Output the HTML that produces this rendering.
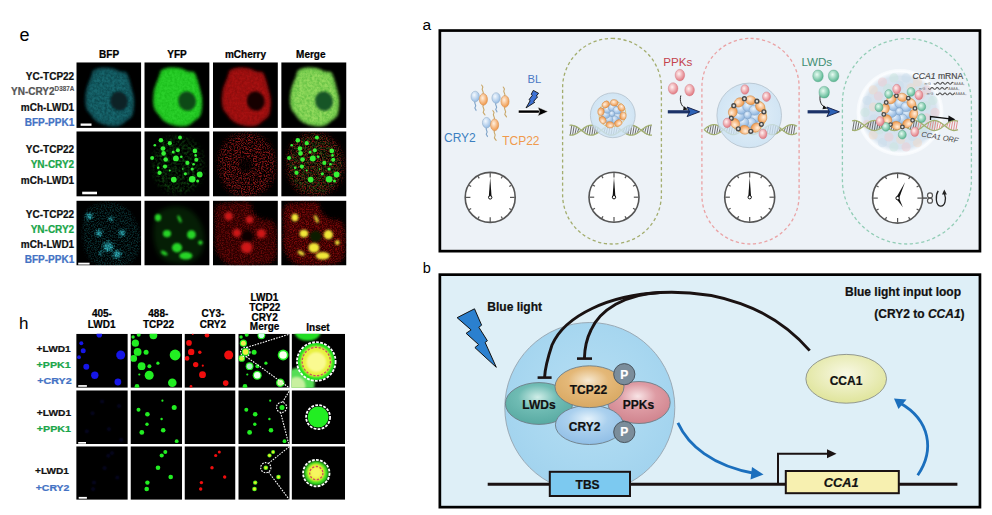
<!DOCTYPE html>
<html><head><meta charset="utf-8"><style>
html,body{margin:0;padding:0;background:#fff;width:992px;height:515px;overflow:hidden;}
svg{display:block;font-family:"Liberation Sans",sans-serif;}
</style></head><body>
<svg width="992" height="515" viewBox="0 0 992 515" font-family="Liberation Sans, sans-serif"><defs><filter id="b0" x="-50%" y="-50%" width="200%" height="200%"><feGaussianBlur stdDeviation="0.4"/></filter><filter id="b1" x="-50%" y="-50%" width="200%" height="200%"><feGaussianBlur stdDeviation="0.6"/></filter><filter id="b2" x="-50%" y="-50%" width="200%" height="200%"><feGaussianBlur stdDeviation="0.8"/></filter><filter id="b3" x="-50%" y="-50%" width="200%" height="200%"><feGaussianBlur stdDeviation="1.0"/></filter><filter id="b4" x="-50%" y="-50%" width="200%" height="200%"><feGaussianBlur stdDeviation="1.3"/></filter><filter id="b5" x="-50%" y="-50%" width="200%" height="200%"><feGaussianBlur stdDeviation="1.8"/></filter><filter id="b6" x="-50%" y="-50%" width="200%" height="200%"><feGaussianBlur stdDeviation="2.5"/></filter><filter id="b7" x="-50%" y="-50%" width="200%" height="200%"><feGaussianBlur stdDeviation="3.5"/></filter><filter id="spA" x="-20%" y="-20%" width="140%" height="140%"><feTurbulence type="fractalNoise" baseFrequency="0.4" numOctaves="2" seed="3" result="n"/><feColorMatrix in="n" type="matrix" values="0 0 0 0 0  0 0 0 0 0  0 0 0 0 0  2.0 0 0 0 -0.4" result="na0"/><feGaussianBlur in="na0" stdDeviation="0.6" result="na"/><feGaussianBlur in="SourceGraphic" stdDeviation="2.0" result="s"/><feComposite in="s" in2="na" operator="in"/></filter><filter id="spR" x="-20%" y="-20%" width="140%" height="140%"><feTurbulence type="fractalNoise" baseFrequency="0.75" numOctaves="2" seed="11" result="n"/><feColorMatrix in="n" type="matrix" values="0 0 0 0 0  0 0 0 0 0  0 0 0 0 0  3.2 0 0 0 -1.3" result="na0"/><feGaussianBlur in="na0" stdDeviation="0.35" result="na"/><feGaussianBlur in="SourceGraphic" stdDeviation="2.5" result="s"/><feComposite in="s" in2="na" operator="in"/></filter><filter id="spC" x="-20%" y="-20%" width="140%" height="140%"><feTurbulence type="fractalNoise" baseFrequency="0.7" numOctaves="2" seed="5" result="n"/><feColorMatrix in="n" type="matrix" values="0 0 0 0 0  0 0 0 0 0  0 0 0 0 0  3.2 0 0 0 -1.3" result="na0"/><feGaussianBlur in="na0" stdDeviation="0.35" result="na"/><feGaussianBlur in="SourceGraphic" stdDeviation="1.5" result="s"/><feComposite in="s" in2="na" operator="in"/></filter><filter id="spG" x="-20%" y="-20%" width="140%" height="140%"><feTurbulence type="fractalNoise" baseFrequency="0.4" numOctaves="2" seed="8" result="n"/><feColorMatrix in="n" type="matrix" values="0 0 0 0 0  0 0 0 0 0  0 0 0 0 0  2.2 0 0 0 -0.8" result="na0"/><feGaussianBlur in="na0" stdDeviation="0.6" result="na"/><feGaussianBlur in="SourceGraphic" stdDeviation="2.5" result="s"/><feComposite in="s" in2="na" operator="in"/></filter><clipPath id="e00"><rect x="76.3" y="62.3" width="65.0" height="65.6"/></clipPath><clipPath id="e01"><rect x="144.3" y="62.3" width="65.3" height="65.6"/></clipPath><clipPath id="e02"><rect x="212.9" y="62.3" width="65.0" height="65.6"/></clipPath><clipPath id="e03"><rect x="281.2" y="62.3" width="65.3" height="65.6"/></clipPath><clipPath id="e10"><rect x="76.3" y="131.3" width="65.0" height="65.3"/></clipPath><clipPath id="e11"><rect x="144.3" y="131.3" width="65.3" height="65.3"/></clipPath><clipPath id="e12"><rect x="212.9" y="131.3" width="65.0" height="65.3"/></clipPath><clipPath id="e13"><rect x="281.2" y="131.3" width="65.3" height="65.3"/></clipPath><clipPath id="e20"><rect x="76.3" y="200.6" width="65.0" height="64.9"/></clipPath><clipPath id="e21"><rect x="144.3" y="200.6" width="65.3" height="64.9"/></clipPath><clipPath id="e22"><rect x="212.9" y="200.6" width="65.0" height="64.9"/></clipPath><clipPath id="e23"><rect x="281.2" y="200.6" width="65.3" height="64.9"/></clipPath><clipPath id="h00"><rect x="76.2" y="333.8" width="51.6" height="54.0"/></clipPath><clipPath id="h10"><rect x="76.2" y="390.3" width="51.6" height="53.7"/></clipPath><clipPath id="h20"><rect x="76.2" y="446.3" width="51.6" height="53.5"/></clipPath><clipPath id="h01"><rect x="130.5" y="333.8" width="51.6" height="54.0"/></clipPath><clipPath id="h11"><rect x="130.5" y="390.3" width="51.6" height="53.7"/></clipPath><clipPath id="h21"><rect x="130.5" y="446.3" width="51.6" height="53.5"/></clipPath><clipPath id="h02"><rect x="184.5" y="333.8" width="51.0" height="54.0"/></clipPath><clipPath id="h12"><rect x="184.5" y="390.3" width="51.0" height="53.7"/></clipPath><clipPath id="h22"><rect x="184.5" y="446.3" width="51.0" height="53.5"/></clipPath><clipPath id="h03"><rect x="238.3" y="333.8" width="51.4" height="54.0"/></clipPath><clipPath id="h13"><rect x="238.3" y="390.3" width="51.4" height="53.7"/></clipPath><clipPath id="h23"><rect x="238.3" y="446.3" width="51.4" height="53.5"/></clipPath><clipPath id="h04"><rect x="291.6" y="333.8" width="53.5" height="54.0"/></clipPath><clipPath id="h14"><rect x="291.6" y="390.3" width="53.5" height="53.7"/></clipPath><clipPath id="h24"><rect x="291.6" y="446.3" width="53.5" height="53.5"/></clipPath><radialGradient id="gT" cx="48%" cy="35%" r="65%"><stop offset="0" stop-color="#f6e8d0"/><stop offset="0.45" stop-color="#e4b878"/><stop offset="1" stop-color="#d8a862"/></radialGradient><radialGradient id="gL" cx="48%" cy="35%" r="65%"><stop offset="0" stop-color="#d0eee8"/><stop offset="0.45" stop-color="#70bcb4"/><stop offset="1" stop-color="#58aaa2"/></radialGradient><radialGradient id="gP" cx="48%" cy="35%" r="65%"><stop offset="0" stop-color="#f8e4e6"/><stop offset="0.45" stop-color="#de9ca4"/><stop offset="1" stop-color="#d0848e"/></radialGradient><radialGradient id="gC" cx="48%" cy="35%" r="65%"><stop offset="0" stop-color="#e6f3fc"/><stop offset="0.45" stop-color="#aad0ee"/><stop offset="1" stop-color="#90bee6"/></radialGradient><radialGradient id="gCCA" cx="50%" cy="40%" r="60%"><stop offset="0" stop-color="#f8f8e4"/><stop offset="1" stop-color="#dfe49a"/></radialGradient><radialGradient id="gBig" cx="50%" cy="45%" r="55%"><stop offset="0" stop-color="#b6def3"/><stop offset="0.7" stop-color="#a8d7f0"/><stop offset="1" stop-color="#a2d3ee"/></radialGradient><radialGradient id="gBB" cx="38%" cy="35%" r="65%"><stop offset="0" stop-color="#f4f9fe"/><stop offset="1" stop-color="#98bde4"/></radialGradient><radialGradient id="gBB2" cx="40%" cy="35%" r="62%"><stop offset="0" stop-color="#eaf3fc"/><stop offset="1" stop-color="#8fb6e0"/></radialGradient><radialGradient id="gOB" cx="40%" cy="38%" r="62%"><stop offset="0" stop-color="#fff0e0"/><stop offset="1" stop-color="#f0984a"/></radialGradient><radialGradient id="gPB" cx="40%" cy="38%" r="62%"><stop offset="0" stop-color="#fff2f2"/><stop offset="1" stop-color="#e27a82"/></radialGradient><radialGradient id="gGB" cx="40%" cy="38%" r="62%"><stop offset="0" stop-color="#e8fbf2"/><stop offset="1" stop-color="#5cb894"/></radialGradient><radialGradient id="gDrop1" cx="50%" cy="50%" r="55%"><stop offset="0" stop-color="#e2f0fa"/><stop offset="1" stop-color="#c8e0f2"/></radialGradient><radialGradient id="gDrop3" cx="50%" cy="50%" r="50%"><stop offset="0" stop-color="#d0dfec"/><stop offset="0.82" stop-color="#d8e4ef"/><stop offset="0.93" stop-color="#fbfdff"/><stop offset="0.98" stop-color="#f6f9fc"/><stop offset="1" stop-color="#eef3f8" stop-opacity="0.5"/></radialGradient></defs><text x="19.6" y="41.2" font-size="18" fill="#000" text-anchor="start" >e</text>
<text x="19.0" y="329.0" font-size="17" fill="#000" text-anchor="start" >h</text>
<text x="422.5" y="30.0" font-size="15.5" fill="#000" text-anchor="start" >a</text>
<text x="422.8" y="273.0" font-size="14.5" fill="#000" text-anchor="start" >b</text>
<text x="109.1" y="58.2" font-size="10" font-weight="bold" stroke="#000" stroke-width="0.22" fill="#000" text-anchor="middle" >BFP</text>
<text x="177" y="58.2" font-size="10" font-weight="bold" stroke="#000" stroke-width="0.22" fill="#000" text-anchor="middle" >YFP</text>
<text x="245.5" y="58.2" font-size="10" font-weight="bold" stroke="#000" stroke-width="0.22" fill="#000" text-anchor="middle" >mCherry</text>
<text x="310.8" y="58.2" font-size="10" font-weight="bold" stroke="#000" stroke-width="0.22" fill="#000" text-anchor="middle" >Merge</text>
<text x="74.2" y="79.6" font-size="10" font-weight="bold" stroke="#111" stroke-width="0.22" fill="#111" text-anchor="end" >YC-TCP22</text>
<text x="74.2" y="94.7" font-size="10" font-weight="bold" fill="#555" stroke="#555" stroke-width="0.22" text-anchor="end">YN-CRY2<tspan font-size="6.3" dy="-4" stroke-width="0.1">D387A</tspan></text>
<text x="74.2" y="110.8" font-size="10" font-weight="bold" stroke="#111" stroke-width="0.22" fill="#111" text-anchor="end" >mCh-LWD1</text>
<text x="74.2" y="125.8" font-size="10" font-weight="bold" stroke="#4472c4" stroke-width="0.22" fill="#4472c4" text-anchor="end" >BFP-PPK1</text>
<text x="74.2" y="152.6" font-size="10" font-weight="bold" stroke="#111" stroke-width="0.22" fill="#111" text-anchor="end" >YC-TCP22</text>
<text x="74.2" y="168.2" font-size="10" font-weight="bold" stroke="#1aa64a" stroke-width="0.22" fill="#1aa64a" text-anchor="end" >YN-CRY2</text>
<text x="74.2" y="183.6" font-size="10" font-weight="bold" stroke="#111" stroke-width="0.22" fill="#111" text-anchor="end" >mCh-LWD1</text>
<text x="74.2" y="217.6" font-size="10" font-weight="bold" stroke="#111" stroke-width="0.22" fill="#111" text-anchor="end" >YC-TCP22</text>
<text x="74.2" y="232.5" font-size="10" font-weight="bold" stroke="#1aa64a" stroke-width="0.22" fill="#1aa64a" text-anchor="end" >YN-CRY2</text>
<text x="74.2" y="248.4" font-size="10" font-weight="bold" stroke="#111" stroke-width="0.22" fill="#111" text-anchor="end" >mCh-LWD1</text>
<text x="74.2" y="263.4" font-size="10" font-weight="bold" stroke="#4472c4" stroke-width="0.22" fill="#4472c4" text-anchor="end" >BFP-PPK1</text>
<text x="101.9" y="316.6" font-size="10" font-weight="bold" stroke="#000" stroke-width="0.22" fill="#000" text-anchor="middle" >405-</text>
<text x="101.6" y="328.2" font-size="10" font-weight="bold" stroke="#000" stroke-width="0.22" fill="#000" text-anchor="middle" >LWD1</text>
<text x="158.3" y="316.6" font-size="10" font-weight="bold" stroke="#000" stroke-width="0.22" fill="#000" text-anchor="middle" >488-</text>
<text x="158.5" y="328.2" font-size="10" font-weight="bold" stroke="#000" stroke-width="0.22" fill="#000" text-anchor="middle" >TCP22</text>
<text x="212.9" y="316.6" font-size="10" font-weight="bold" stroke="#000" stroke-width="0.22" fill="#000" text-anchor="middle" >CY3-</text>
<text x="212.9" y="328.2" font-size="10" font-weight="bold" stroke="#000" stroke-width="0.22" fill="#000" text-anchor="middle" >CRY2</text>
<text x="264.4" y="300.6" font-size="10" font-weight="bold" stroke="#000" stroke-width="0.22" fill="#000" text-anchor="middle" >LWD1</text>
<text x="264.8" y="311.1" font-size="10" font-weight="bold" stroke="#000" stroke-width="0.22" fill="#000" text-anchor="middle" >TCP22</text>
<text x="264.7" y="321.1" font-size="10" font-weight="bold" stroke="#000" stroke-width="0.22" fill="#000" text-anchor="middle" >CRY2</text>
<text x="264.6" y="330.4" font-size="10" font-weight="bold" stroke="#000" stroke-width="0.22" fill="#000" text-anchor="middle" >Merge</text>
<text x="318.0" y="330.5" font-size="10" font-weight="bold" stroke="#000" stroke-width="0.22" fill="#000" text-anchor="middle" >Inset</text>
<text x="36.6" y="352.1" font-size="9.6" font-weight="bold" stroke="#111" stroke-width="0.22" fill="#111" textLength="34.1" lengthAdjust="spacingAndGlyphs">+LWD1</text>
<text x="36.6" y="367.9" font-size="9.6" font-weight="bold" stroke="#1aa64a" stroke-width="0.22" fill="#1aa64a" textLength="34.1" lengthAdjust="spacingAndGlyphs">+PPK1</text>
<text x="37.2" y="383.8" font-size="9.6" font-weight="bold" stroke="#4472c4" stroke-width="0.22" fill="#4472c4" textLength="34.4" lengthAdjust="spacingAndGlyphs">+CRY2</text>
<text x="36.800000000000004" y="416.4" font-size="9.6" font-weight="bold" stroke="#111" stroke-width="0.22" fill="#111" textLength="34.3" lengthAdjust="spacingAndGlyphs">+LWD1</text>
<text x="36.800000000000004" y="431.7" font-size="9.6" font-weight="bold" stroke="#1aa64a" stroke-width="0.22" fill="#1aa64a" textLength="34.3" lengthAdjust="spacingAndGlyphs">+PPK1</text>
<text x="35.1" y="474.4" font-size="9.6" font-weight="bold" stroke="#111" stroke-width="0.22" fill="#111" textLength="33.9" lengthAdjust="spacingAndGlyphs">+LWD1</text>
<text x="35.7" y="490.7" font-size="9.6" font-weight="bold" stroke="#4472c4" stroke-width="0.22" fill="#4472c4" textLength="33.7" lengthAdjust="spacingAndGlyphs">+CRY2</text>
<g clip-path="url(#e00)"><rect x="76.3" y="62.3" width="65.0" height="65.6" fill="#000"/>
<path d="M93.3,70.2 C94.9,69.2 98.3,67.8 101.5,67.5 C104.7,67.2 109.2,67.5 112.4,68.2 C115.6,68.9 118.2,70.9 120.5,71.6 C122.8,72.3 124.6,71.2 126.0,72.2 C127.4,73.2 127.8,75.2 128.7,77.7 C129.6,80.2 130.5,83.6 131.4,87.2 C132.3,90.8 133.8,95.3 134.1,99.4 C134.4,103.5 133.8,108.6 133.4,111.6 C133.0,114.5 132.6,115.5 131.4,117.1 C130.2,118.7 127.8,119.8 126.0,121.2 C124.2,122.5 122.8,124.3 120.5,125.2 C118.2,126.0 115.6,126.5 112.4,126.3 C109.2,126.1 104.5,125.0 101.5,123.9 C98.5,122.8 96.5,121.4 94.7,119.8 C92.9,118.2 92.0,116.2 90.6,114.4 C89.2,112.6 87.4,111.2 86.5,108.9 C85.6,106.6 85.3,103.7 85.2,100.8 C85.1,97.9 85.5,94.0 85.9,91.3 C86.4,88.6 87.1,86.8 87.9,84.5 C88.7,82.2 89.9,79.5 90.6,77.7 C91.3,75.9 91.5,74.8 92.0,73.6 C92.5,72.3 91.7,71.2 93.3,70.2Z" fill="#104850" filter="url(#b5)"/>
<path d="M94.6,72.4 C96.0,71.4 99.2,70.2 102.1,69.9 C105.1,69.6 109.2,69.9 112.2,70.5 C115.1,71.2 117.5,73.0 119.6,73.7 C121.7,74.3 123.4,73.3 124.7,74.2 C125.9,75.1 126.3,77.0 127.1,79.3 C128.0,81.6 128.8,84.7 129.6,88.0 C130.5,91.3 131.8,95.5 132.1,99.2 C132.4,103.0 131.9,107.7 131.5,110.5 C131.1,113.2 130.8,114.0 129.6,115.5 C128.5,117.0 126.3,118.0 124.7,119.3 C123.0,120.5 121.7,122.2 119.6,123.0 C117.5,123.7 115.1,124.2 112.2,124.0 C109.2,123.8 104.8,122.8 102.1,121.8 C99.4,120.8 97.5,119.5 95.9,118.0 C94.2,116.5 93.4,114.7 92.1,113.0 C90.8,111.4 89.2,110.1 88.3,108.0 C87.5,105.9 87.2,103.2 87.1,100.5 C87.0,97.8 87.4,94.3 87.8,91.8 C88.2,89.3 88.9,87.6 89.6,85.5 C90.3,83.4 91.5,80.9 92.1,79.3 C92.7,77.6 93.0,76.6 93.4,75.5 C93.8,74.3 93.1,73.3 94.6,72.4Z" fill="#24848c" filter="url(#spA)" opacity="0.5"/>
<ellipse cx="119.1" cy="101.1" rx="8.9" ry="9.8" transform="rotate(-15 119.1 101.1)" fill="#072428" filter="url(#b4)"/>
</g>
<g clip-path="url(#e01)"><rect x="144.3" y="62.3" width="65.3" height="65.6" fill="#000"/>
<path d="M161.3,70.2 C162.9,69.2 166.3,67.8 169.5,67.5 C172.7,67.2 177.2,67.5 180.4,68.2 C183.6,68.9 186.2,70.9 188.5,71.6 C190.8,72.3 192.6,71.2 194.0,72.2 C195.4,73.2 195.8,75.2 196.7,77.7 C197.6,80.2 198.5,83.6 199.4,87.2 C200.3,90.8 201.8,95.3 202.1,99.4 C202.4,103.5 201.9,108.6 201.4,111.6 C200.9,114.5 200.6,115.5 199.4,117.1 C198.2,118.7 195.8,119.8 194.0,121.2 C192.2,122.5 190.8,124.3 188.5,125.2 C186.2,126.0 183.6,126.5 180.4,126.3 C177.2,126.1 172.4,125.0 169.5,123.9 C166.6,122.8 164.5,121.4 162.7,119.8 C160.9,118.2 160.0,116.2 158.6,114.4 C157.2,112.6 155.4,111.2 154.5,108.9 C153.6,106.6 153.3,103.7 153.2,100.8 C153.1,97.9 153.5,94.0 153.9,91.3 C154.3,88.6 155.1,86.8 155.9,84.5 C156.7,82.2 157.9,79.5 158.6,77.7 C159.3,75.9 159.6,74.8 160.0,73.6 C160.4,72.3 159.7,71.2 161.3,70.2Z" fill="#1fbf1f" filter="url(#b5)"/>
<path d="M162.6,72.4 C164.0,71.4 167.2,70.2 170.1,69.9 C173.1,69.6 177.2,69.9 180.2,70.5 C183.1,71.2 185.5,73.0 187.6,73.7 C189.7,74.3 191.4,73.3 192.7,74.2 C193.9,75.1 194.3,77.0 195.1,79.3 C196.0,81.6 196.8,84.7 197.6,88.0 C198.5,91.3 199.8,95.5 200.1,99.2 C200.4,103.0 199.9,107.7 199.5,110.5 C199.1,113.2 198.8,114.0 197.6,115.5 C196.5,117.0 194.3,118.0 192.7,119.3 C191.0,120.5 189.7,122.2 187.6,123.0 C185.5,123.7 183.1,124.2 180.2,124.0 C177.2,123.8 172.8,122.8 170.1,121.8 C167.4,120.8 165.5,119.5 163.9,118.0 C162.2,116.5 161.4,114.7 160.1,113.0 C158.8,111.4 157.2,110.1 156.3,108.0 C155.5,105.9 155.2,103.2 155.1,100.5 C155.0,97.8 155.4,94.3 155.8,91.8 C156.2,89.3 156.9,87.6 157.6,85.5 C158.3,83.4 159.5,80.9 160.1,79.3 C160.7,77.6 161.0,76.6 161.4,75.5 C161.8,74.3 161.1,73.3 162.6,72.4Z" fill="#34dc34" filter="url(#spA)" opacity="0.6"/>
<ellipse cx="187.10000000000002" cy="101.1" rx="8.9" ry="9.8" transform="rotate(-15 187.10000000000002 101.1)" fill="#0a4a12" filter="url(#b4)"/>
</g>
<g clip-path="url(#e02)"><rect x="212.9" y="62.3" width="65.0" height="65.6" fill="#000"/>
<path d="M229.9,70.2 C231.5,69.2 234.9,67.8 238.1,67.5 C241.3,67.2 245.8,67.5 249.0,68.2 C252.2,68.9 254.8,70.9 257.1,71.6 C259.4,72.3 261.2,71.2 262.6,72.2 C264.0,73.2 264.4,75.2 265.3,77.7 C266.2,80.2 267.1,83.6 268.0,87.2 C268.9,90.8 270.4,95.3 270.7,99.4 C271.0,103.5 270.4,108.6 270.0,111.6 C269.6,114.5 269.2,115.5 268.0,117.1 C266.8,118.7 264.4,119.8 262.6,121.2 C260.8,122.5 259.4,124.3 257.1,125.2 C254.8,126.0 252.2,126.5 249.0,126.3 C245.8,126.1 241.0,125.0 238.1,123.9 C235.2,122.8 233.1,121.4 231.3,119.8 C229.5,118.2 228.6,116.2 227.2,114.4 C225.8,112.6 224.0,111.2 223.1,108.9 C222.2,106.6 221.9,103.7 221.8,100.8 C221.7,97.9 222.1,94.0 222.5,91.3 C222.9,88.6 223.7,86.8 224.5,84.5 C225.3,82.2 226.5,79.5 227.2,77.7 C227.9,75.9 228.2,74.8 228.6,73.6 C229.0,72.3 228.3,71.2 229.9,70.2Z" fill="#8e0e0e" filter="url(#b5)"/>
<path d="M231.2,72.4 C232.6,71.4 235.8,70.2 238.7,69.9 C241.7,69.6 245.8,69.9 248.8,70.5 C251.7,71.2 254.1,73.0 256.2,73.7 C258.3,74.3 260.0,73.3 261.3,74.2 C262.5,75.1 262.9,77.0 263.7,79.3 C264.6,81.6 265.4,84.7 266.2,88.0 C267.1,91.3 268.4,95.5 268.7,99.2 C269.0,103.0 268.5,107.7 268.1,110.5 C267.7,113.2 267.4,114.0 266.2,115.5 C265.1,117.0 262.9,118.0 261.3,119.3 C259.6,120.5 258.3,122.2 256.2,123.0 C254.1,123.7 251.7,124.2 248.8,124.0 C245.8,123.8 241.4,122.8 238.7,121.8 C236.0,120.8 234.1,119.5 232.5,118.0 C230.8,116.5 230.0,114.7 228.7,113.0 C227.4,111.4 225.8,110.1 224.9,108.0 C224.1,105.9 223.8,103.2 223.7,100.5 C223.6,97.8 224.0,94.3 224.4,91.8 C224.8,89.3 225.5,87.6 226.2,85.5 C226.9,83.4 228.1,80.9 228.7,79.3 C229.3,77.6 229.6,76.6 230.0,75.5 C230.4,74.3 229.7,73.3 231.2,72.4Z" fill="#c41818" filter="url(#spA)" opacity="0.45"/>
<ellipse cx="255.7" cy="101.1" rx="8.9" ry="9.8" transform="rotate(-15 255.7 101.1)" fill="#160000" filter="url(#b4)"/>
</g>
<g clip-path="url(#e03)"><rect x="281.2" y="62.3" width="65.3" height="65.6" fill="#000"/>
<path d="M298.2,70.2 C299.8,69.2 303.2,67.8 306.4,67.5 C309.6,67.2 314.1,67.5 317.3,68.2 C320.5,68.9 323.1,70.9 325.4,71.6 C327.7,72.3 329.5,71.2 330.9,72.2 C332.3,73.2 332.7,75.2 333.6,77.7 C334.5,80.2 335.4,83.6 336.3,87.2 C337.2,90.8 338.7,95.3 339.0,99.4 C339.3,103.5 338.8,108.6 338.3,111.6 C337.9,114.5 337.5,115.5 336.3,117.1 C335.1,118.7 332.7,119.8 330.9,121.2 C329.1,122.5 327.7,124.3 325.4,125.2 C323.1,126.0 320.5,126.5 317.3,126.3 C314.1,126.1 309.3,125.0 306.4,123.9 C303.4,122.8 301.4,121.4 299.6,119.8 C297.8,118.2 296.9,116.2 295.5,114.4 C294.1,112.6 292.3,111.2 291.4,108.9 C290.5,106.6 290.2,103.7 290.1,100.8 C290.0,97.9 290.4,94.0 290.8,91.3 C291.2,88.6 292.0,86.8 292.8,84.5 C293.6,82.2 294.8,79.5 295.5,77.7 C296.2,75.9 296.4,74.8 296.9,73.6 C297.3,72.3 296.6,71.2 298.2,70.2Z" fill="#66c244" filter="url(#b5)"/>
<path d="M299.5,72.4 C300.9,71.4 304.1,70.2 307.0,69.9 C310.0,69.6 314.1,69.9 317.1,70.5 C320.0,71.2 322.4,73.0 324.5,73.7 C326.6,74.3 328.3,73.3 329.6,74.2 C330.8,75.1 331.2,77.0 332.0,79.3 C332.9,81.6 333.7,84.7 334.5,88.0 C335.4,91.3 336.7,95.5 337.0,99.2 C337.3,103.0 336.8,107.7 336.4,110.5 C336.0,113.2 335.7,114.0 334.5,115.5 C333.4,117.0 331.2,118.0 329.6,119.3 C327.9,120.5 326.6,122.2 324.5,123.0 C322.4,123.7 320.0,124.2 317.1,124.0 C314.1,123.8 309.7,122.8 307.0,121.8 C304.3,120.8 302.4,119.5 300.8,118.0 C299.1,116.5 298.3,114.7 297.0,113.0 C295.7,111.4 294.1,110.1 293.2,108.0 C292.4,105.9 292.1,103.2 292.0,100.5 C291.9,97.8 292.3,94.3 292.7,91.8 C293.1,89.3 293.8,87.6 294.5,85.5 C295.2,83.4 296.4,80.9 297.0,79.3 C297.6,77.6 297.9,76.6 298.3,75.5 C298.7,74.3 298.0,73.3 299.5,72.4Z" fill="#a2e266" filter="url(#spA)" opacity="0.75"/>
<ellipse cx="324.0" cy="101.1" rx="8.9" ry="9.8" transform="rotate(-15 324.0 101.1)" fill="#175426" filter="url(#b4)"/>
</g>
<g clip-path="url(#e10)"><rect x="76.3" y="131.3" width="65.0" height="65.3" fill="#000"/>
</g>
<g clip-path="url(#e11)"><rect x="144.3" y="131.3" width="65.3" height="65.3" fill="#000"/>
<path d="M154.3,151.3 C156.3,146.8 160.5,141.8 164.3,139.3 C168.1,136.8 173.0,136.3 177.3,136.3 C181.6,136.3 186.5,137.1 190.3,139.3 C194.1,141.5 198.0,145.3 200.3,149.3 C202.6,153.3 204.0,158.6 204.3,163.3 C204.6,168.0 204.0,173.1 202.3,177.3 C200.6,181.5 198.0,185.6 194.3,188.3 C190.6,191.0 185.0,192.8 180.3,193.3 C175.6,193.8 170.3,193.3 166.3,191.3 C162.3,189.3 158.6,185.5 156.3,181.3 C154.0,177.1 152.6,171.3 152.3,166.3 C152.0,161.3 152.3,155.8 154.3,151.3Z" fill="#1c7a1c" filter="url(#spG)" opacity="0.55"/>
<circle cx="180.0" cy="137.5" r="2.0" fill="#36f236" filter="url(#b1)"/>
<circle cx="160.9" cy="140.2" r="2.3" fill="#36f236" filter="url(#b1)"/>
<circle cx="169.8" cy="143.2" r="2.1" fill="#36f236" filter="url(#b1)"/>
<circle cx="154.8" cy="145.2" r="1.3" fill="#36f236" filter="url(#b1)"/>
<circle cx="163.0" cy="148.6" r="2.4" fill="#36f236" filter="url(#b1)"/>
<circle cx="163.6" cy="153.4" r="2.3" fill="#36f236" filter="url(#b1)"/>
<circle cx="177.9" cy="150.3" r="2.0" fill="#36f236" filter="url(#b1)"/>
<circle cx="173.2" cy="152.0" r="1.5" fill="#36f236" filter="url(#b1)"/>
<circle cx="194.9" cy="150.9" r="2.3" fill="#36f236" filter="url(#b1)"/>
<circle cx="195.6" cy="155.4" r="1.3" fill="#36f236" filter="url(#b1)"/>
<circle cx="152.1" cy="158.1" r="2.0" fill="#36f236" filter="url(#b1)"/>
<circle cx="165.7" cy="159.5" r="2.3" fill="#36f236" filter="url(#b1)"/>
<circle cx="175.9" cy="158.4" r="2.9" fill="#36f236" filter="url(#b1)"/>
<circle cx="181.3" cy="156.8" r="1.3" fill="#36f236" filter="url(#b1)"/>
<circle cx="196.3" cy="159.8" r="2.0" fill="#36f236" filter="url(#b1)"/>
<circle cx="187.4" cy="162.9" r="2.1" fill="#36f236" filter="url(#b1)"/>
<circle cx="193.6" cy="164.3" r="1.3" fill="#36f236" filter="url(#b1)"/>
<circle cx="165.0" cy="166.6" r="2.1" fill="#36f236" filter="url(#b1)"/>
<circle cx="158.2" cy="167.7" r="1.3" fill="#36f236" filter="url(#b1)"/>
<circle cx="192.2" cy="169.0" r="1.6" fill="#36f236" filter="url(#b1)"/>
<circle cx="159.6" cy="172.8" r="2.1" fill="#36f236" filter="url(#b1)"/>
<circle cx="185.4" cy="173.8" r="1.6" fill="#36f236" filter="url(#b1)"/>
<circle cx="199.7" cy="174.5" r="2.9" fill="#36f236" filter="url(#b1)"/>
<circle cx="173.8" cy="179.6" r="2.9" fill="#36f236" filter="url(#b1)"/>
<circle cx="192.2" cy="179.2" r="3.3" fill="#36f236" filter="url(#b1)"/>
<circle cx="197.6" cy="181.0" r="1.5" fill="#36f236" filter="url(#b1)"/>
<circle cx="169.8" cy="170.4" r="1.0" fill="#36f236" filter="url(#b1)"/>
<circle cx="182.7" cy="169.0" r="0.8" fill="#36f236" filter="url(#b1)"/>
</g>
<g clip-path="url(#e12)"><rect x="212.9" y="131.3" width="65.0" height="65.3" fill="#000"/>
<path d="M220.6,149.8 C222.8,144.9 227.4,139.4 231.6,136.6 C235.8,133.9 241.1,133.3 245.9,133.3 C250.7,133.3 256.0,134.2 260.2,136.6 C264.4,139.0 268.6,143.2 271.2,147.6 C273.8,152.0 275.2,157.9 275.6,163.0 C276.0,168.1 275.2,173.8 273.4,178.4 C271.6,183.0 268.6,187.6 264.6,190.5 C260.6,193.4 254.3,195.4 249.2,196.0 C244.1,196.6 238.2,196.0 233.8,193.8 C229.4,191.6 225.4,187.4 222.8,182.8 C220.2,178.2 218.8,171.8 218.4,166.3 C218.0,160.8 218.4,154.8 220.6,149.8Z" fill="#8c1212" filter="url(#spR)"/>
<circle cx="245.9" cy="165.3" r="7" fill="#000" filter="url(#b5)" opacity="0.8"/>
</g>
<g clip-path="url(#e13)"><rect x="281.2" y="131.3" width="65.3" height="65.3" fill="#000"/>
<path d="M288.9,149.8 C291.1,144.9 295.7,139.4 299.9,136.6 C304.1,133.9 309.4,133.3 314.2,133.3 C319.0,133.3 324.3,134.2 328.5,136.6 C332.7,139.0 336.9,143.2 339.5,147.6 C342.1,152.0 343.5,157.9 343.9,163.0 C344.3,168.1 343.5,173.8 341.7,178.4 C339.9,183.0 336.9,187.6 332.9,190.5 C328.9,193.4 322.6,195.4 317.5,196.0 C312.4,196.6 306.5,196.0 302.1,193.8 C297.7,191.6 293.7,187.4 291.1,182.8 C288.5,178.2 287.1,171.8 286.7,166.3 C286.3,160.8 286.7,154.8 288.9,149.8Z" fill="#8c1212" filter="url(#spR)"/>
<path d="M291.2,151.3 C293.2,146.8 297.4,141.8 301.2,139.3 C305.0,136.8 309.9,136.3 314.2,136.3 C318.5,136.3 323.4,137.1 327.2,139.3 C331.0,141.5 334.9,145.3 337.2,149.3 C339.5,153.3 340.9,158.6 341.2,163.3 C341.5,168.0 340.9,173.1 339.2,177.3 C337.5,181.5 334.9,185.6 331.2,188.3 C327.5,191.0 321.9,192.8 317.2,193.3 C312.5,193.8 307.2,193.3 303.2,191.3 C299.2,189.3 295.5,185.5 293.2,181.3 C290.9,177.1 289.5,171.3 289.2,166.3 C288.9,161.3 289.2,155.8 291.2,151.3Z" fill="#1c7a1c" filter="url(#spG)" opacity="0.55"/>
<circle cx="316.9" cy="137.5" r="2.0" fill="#36f236" filter="url(#b1)"/>
<circle cx="297.8" cy="140.2" r="2.3" fill="#36f236" filter="url(#b1)"/>
<circle cx="306.7" cy="143.2" r="2.1" fill="#36f236" filter="url(#b1)"/>
<circle cx="291.7" cy="145.2" r="1.3" fill="#36f236" filter="url(#b1)"/>
<circle cx="299.9" cy="148.6" r="2.4" fill="#36f236" filter="url(#b1)"/>
<circle cx="300.5" cy="153.4" r="2.3" fill="#36f236" filter="url(#b1)"/>
<circle cx="314.8" cy="150.3" r="2.0" fill="#36f236" filter="url(#b1)"/>
<circle cx="310.1" cy="152.0" r="1.5" fill="#36f236" filter="url(#b1)"/>
<circle cx="331.8" cy="150.9" r="2.3" fill="#36f236" filter="url(#b1)"/>
<circle cx="332.5" cy="155.4" r="1.3" fill="#36f236" filter="url(#b1)"/>
<circle cx="289.0" cy="158.1" r="2.0" fill="#36f236" filter="url(#b1)"/>
<circle cx="302.6" cy="159.5" r="2.3" fill="#36f236" filter="url(#b1)"/>
<circle cx="312.8" cy="158.4" r="2.9" fill="#36f236" filter="url(#b1)"/>
<circle cx="318.2" cy="156.8" r="1.3" fill="#36f236" filter="url(#b1)"/>
<circle cx="333.2" cy="159.8" r="2.0" fill="#36f236" filter="url(#b1)"/>
<circle cx="324.3" cy="162.9" r="2.1" fill="#36f236" filter="url(#b1)"/>
<circle cx="330.5" cy="164.3" r="1.3" fill="#36f236" filter="url(#b1)"/>
<circle cx="301.9" cy="166.6" r="2.1" fill="#36f236" filter="url(#b1)"/>
<circle cx="295.1" cy="167.7" r="1.3" fill="#36f236" filter="url(#b1)"/>
<circle cx="329.1" cy="169.0" r="1.6" fill="#36f236" filter="url(#b1)"/>
<circle cx="296.5" cy="172.8" r="2.1" fill="#36f236" filter="url(#b1)"/>
<circle cx="322.3" cy="173.8" r="1.6" fill="#36f236" filter="url(#b1)"/>
<circle cx="336.6" cy="174.5" r="2.9" fill="#36f236" filter="url(#b1)"/>
<circle cx="310.7" cy="179.6" r="2.9" fill="#36f236" filter="url(#b1)"/>
<circle cx="329.1" cy="179.2" r="3.3" fill="#36f236" filter="url(#b1)"/>
<circle cx="334.5" cy="181.0" r="1.5" fill="#36f236" filter="url(#b1)"/>
<circle cx="306.7" cy="170.4" r="1.0" fill="#36f236" filter="url(#b1)"/>
<circle cx="319.6" cy="169.0" r="0.8" fill="#36f236" filter="url(#b1)"/>
</g>
<g clip-path="url(#e20)"><rect x="76.3" y="200.6" width="65.0" height="64.9" fill="#000"/>
<path d="M87.5,209.2 C91.3,205.7 99.7,202.6 105.8,202.2 C112.0,201.9 119.3,203.8 124.2,206.8 C129.2,209.9 133.1,215.3 135.8,220.7 C138.4,226.0 140.3,232.9 140.3,239.1 C140.3,245.2 138.8,252.8 135.8,257.4 C132.7,262.0 127.3,265.1 121.9,266.6 C116.6,268.2 108.9,267.8 103.5,266.6 C98.2,265.5 93.2,264.0 89.8,259.8 C86.3,255.5 84.0,247.5 82.8,241.3 C81.7,235.2 82.1,228.3 82.8,222.9 C83.6,217.6 83.6,212.6 87.5,209.2Z" fill="#1e8a90" filter="url(#spC)" opacity="0.35"/>
<circle cx="89.3" cy="216.2" r="3.0" fill="#166a72" filter="url(#b4)"/>
<circle cx="89.3" cy="216.2" r="3.5" fill="#30b4bc" filter="url(#spC)"/>
<circle cx="110.9" cy="219.0" r="2.0" fill="#166a72" filter="url(#b4)"/>
<circle cx="110.9" cy="219.0" r="2.3" fill="#30b4bc" filter="url(#spC)"/>
<circle cx="99.0" cy="232.9" r="3.0" fill="#166a72" filter="url(#b4)"/>
<circle cx="99.0" cy="232.9" r="3.5" fill="#30b4bc" filter="url(#spC)"/>
<circle cx="122.0" cy="232.9" r="3.0" fill="#166a72" filter="url(#b4)"/>
<circle cx="122.0" cy="232.9" r="3.5" fill="#30b4bc" filter="url(#spC)"/>
<circle cx="108.1" cy="246.8" r="4.7" fill="#166a72" filter="url(#b4)"/>
<circle cx="108.1" cy="246.8" r="5.5" fill="#30b4bc" filter="url(#spC)"/>
<circle cx="117.1" cy="254.4" r="3.7" fill="#166a72" filter="url(#b4)"/>
<circle cx="117.1" cy="254.4" r="4.3" fill="#30b4bc" filter="url(#spC)"/>
<circle cx="100.4" cy="253.1" r="1.7" fill="#166a72" filter="url(#b4)"/>
<circle cx="100.4" cy="253.1" r="1.9" fill="#30b4bc" filter="url(#spC)"/>
</g>
<g clip-path="url(#e21)"><rect x="144.3" y="200.6" width="65.3" height="64.9" fill="#000"/>
<path d="M158.3,212.6 C161.6,209.6 169.0,206.9 174.3,206.6 C179.6,206.3 186.0,207.9 190.3,210.6 C194.6,213.3 198.0,217.9 200.3,222.6 C202.6,227.3 204.3,233.3 204.3,238.6 C204.3,243.9 203.0,250.6 200.3,254.6 C197.6,258.6 193.0,261.3 188.3,262.6 C183.6,263.9 177.0,263.6 172.3,262.6 C167.6,261.6 163.3,260.3 160.3,256.6 C157.3,252.9 155.3,245.9 154.3,240.6 C153.3,235.3 153.6,229.3 154.3,224.6 C155.0,219.9 155.0,215.6 158.3,212.6Z" fill="#157a15" filter="url(#b6)" opacity="0.25"/>
<ellipse cx="158.0" cy="217.6" rx="3.2" ry="3.7" transform="rotate(0 158.0 217.6)" fill="#28d428" filter="url(#b3)" opacity="1"/>
<ellipse cx="179.5" cy="219.0" rx="1.3" ry="4.1" transform="rotate(-25 179.5 219.0)" fill="#28d428" filter="url(#b3)" opacity="1"/>
<ellipse cx="167.0" cy="233.6" rx="4.1" ry="3.7" transform="rotate(0 167.0 233.6)" fill="#28d428" filter="url(#b3)" opacity="1"/>
<ellipse cx="191.4" cy="234.7" rx="4.4" ry="4.4" transform="rotate(0 191.4 234.7)" fill="#28d428" filter="url(#b3)" opacity="1"/>
<ellipse cx="177.0" cy="247.8" rx="5.1" ry="4.7" transform="rotate(0 177.0 247.8)" fill="#28d428" filter="url(#b3)" opacity="1"/>
<ellipse cx="164.2" cy="253.1" rx="3.7" ry="1.8" transform="rotate(30 164.2 253.1)" fill="#28d428" filter="url(#b3)" opacity="1"/>
<ellipse cx="185.8" cy="255.8" rx="6.6" ry="3.7" transform="rotate(0 185.8 255.8)" fill="#28d428" filter="url(#b3)" opacity="1"/>
<ellipse cx="200.4" cy="242.6" rx="2.2" ry="2.2" transform="rotate(0 200.4 242.6)" fill="#28d428" filter="url(#b3)" opacity="1"/>
</g>
<g clip-path="url(#e22)"><rect x="212.9" y="200.6" width="65.0" height="64.9" fill="#000"/>
<path d="M216.9,206.6 C219.7,202.9 227.6,204.1 232.9,203.6 C238.2,203.1 245.6,202.1 248.9,203.6 C252.2,205.1 250.9,209.9 252.9,212.6 C254.9,215.3 257.6,217.9 260.9,219.6 C264.2,221.3 270.4,219.1 272.9,222.6 C275.4,226.1 275.9,234.3 275.9,240.6 C275.9,246.9 276.7,256.6 272.9,260.6 C269.1,264.6 260.2,264.1 252.9,264.6 C245.6,265.1 234.9,265.9 228.9,263.6 C222.9,261.3 219.1,256.9 216.9,250.6 C214.7,244.3 215.9,232.9 215.9,225.6 C215.9,218.3 214.1,210.3 216.9,206.6Z" fill="#961212" filter="url(#spR)"/>
<path d="M216.9,206.6 C219.7,202.9 227.6,204.1 232.9,203.6 C238.2,203.1 245.6,202.1 248.9,203.6 C252.2,205.1 250.9,209.9 252.9,212.6 C254.9,215.3 257.6,217.9 260.9,219.6 C264.2,221.3 270.4,219.1 272.9,222.6 C275.4,226.1 275.9,234.3 275.9,240.6 C275.9,246.9 276.7,256.6 272.9,260.6 C269.1,264.6 260.2,264.1 252.9,264.6 C245.6,265.1 234.9,265.9 228.9,263.6 C222.9,261.3 219.1,256.9 216.9,250.6 C214.7,244.3 215.9,232.9 215.9,225.6 C215.9,218.3 214.1,210.3 216.9,206.6Z" fill="#4a0505" filter="url(#b5)" opacity="0.6"/>
<circle cx="247.4" cy="236.6" r="6" fill="#100000" filter="url(#b4)"/>
<circle cx="228.6" cy="216.2" r="4.2" fill="#d01212" filter="url(#b5)"/>
<circle cx="249.5" cy="219.7" r="3.8" fill="#d01212" filter="url(#b5)"/>
<circle cx="236.9" cy="232.9" r="4.2" fill="#d01212" filter="url(#b5)"/>
<circle cx="261.3" cy="233.6" r="4.6" fill="#d01212" filter="url(#b5)"/>
<circle cx="246.7" cy="247.5" r="5.8" fill="#d01212" filter="url(#b5)"/>
</g>
<g clip-path="url(#e23)"><rect x="281.2" y="200.6" width="65.3" height="64.9" fill="#000"/>
<path d="M285.2,206.6 C288.0,202.9 295.9,204.1 301.2,203.6 C306.5,203.1 313.9,202.1 317.2,203.6 C320.5,205.1 319.2,209.9 321.2,212.6 C323.2,215.3 325.9,217.9 329.2,219.6 C332.5,221.3 338.7,219.1 341.2,222.6 C343.7,226.1 344.2,234.3 344.2,240.6 C344.2,246.9 345.0,256.6 341.2,260.6 C337.4,264.6 328.5,264.1 321.2,264.6 C313.9,265.1 303.2,265.9 297.2,263.6 C291.2,261.3 287.4,256.9 285.2,250.6 C283.0,244.3 284.2,232.9 284.2,225.6 C284.2,218.3 282.4,210.3 285.2,206.6Z" fill="#a81414" filter="url(#spR)"/>
<path d="M285.2,206.6 C288.0,202.9 295.9,204.1 301.2,203.6 C306.5,203.1 313.9,202.1 317.2,203.6 C320.5,205.1 319.2,209.9 321.2,212.6 C323.2,215.3 325.9,217.9 329.2,219.6 C332.5,221.3 338.7,219.1 341.2,222.6 C343.7,226.1 344.2,234.3 344.2,240.6 C344.2,246.9 345.0,256.6 341.2,260.6 C337.4,264.6 328.5,264.1 321.2,264.6 C313.9,265.1 303.2,265.9 297.2,263.6 C291.2,261.3 287.4,256.9 285.2,250.6 C283.0,244.3 284.2,232.9 284.2,225.6 C284.2,218.3 282.4,210.3 285.2,206.6Z" fill="#5a0606" filter="url(#b5)" opacity="0.55"/>
<circle cx="315.7" cy="236.6" r="6" fill="#0a1a00" filter="url(#b4)"/>
<ellipse cx="294.9" cy="217.6" rx="3.4" ry="3.8" transform="rotate(0 294.9 217.6)" fill="#f0e838" filter="url(#b3)" opacity="1"/>
<ellipse cx="316.4" cy="219.0" rx="1.4" ry="4.3" transform="rotate(-25 316.4 219.0)" fill="#f0e838" filter="url(#b3)" opacity="1"/>
<ellipse cx="303.9" cy="233.6" rx="4.3" ry="3.8" transform="rotate(0 303.9 233.6)" fill="#f0e838" filter="url(#b3)" opacity="1"/>
<ellipse cx="328.3" cy="234.7" rx="4.6" ry="4.6" transform="rotate(0 328.3 234.7)" fill="#f0e838" filter="url(#b3)" opacity="1"/>
<ellipse cx="313.9" cy="247.8" rx="5.4" ry="4.9" transform="rotate(0 313.9 247.8)" fill="#f0e838" filter="url(#b3)" opacity="1"/>
<ellipse cx="301.1" cy="253.1" rx="3.8" ry="1.8" transform="rotate(30 301.1 253.1)" fill="#f0e838" filter="url(#b3)" opacity="1"/>
<ellipse cx="322.7" cy="255.8" rx="6.9" ry="3.8" transform="rotate(0 322.7 255.8)" fill="#f0e838" filter="url(#b3)" opacity="1"/>
<ellipse cx="337.3" cy="242.6" rx="2.3" ry="2.3" transform="rotate(0 337.3 242.6)" fill="#f0e838" filter="url(#b3)" opacity="1"/>
</g>
<rect x="80.6" y="123.5" width="10.900000000000006" height="2.299999999999997" fill="#fff"/>
<rect x="82.2" y="191.7" width="14.799999999999997" height="2.6000000000000227" fill="#fff"/>
<rect x="78.2" y="262.7" width="11.399999999999991" height="1.900000000000034" fill="#fff"/>
<g clip-path="url(#h00)"><rect x="76.2" y="333.8" width="51.6" height="54.0" fill="#000"/>
<circle cx="99.3" cy="334.7" r="2.8" fill="#1414e6" filter="url(#b1)"/>
<circle cx="81.3" cy="343.2" r="2.0" fill="#1414e6" filter="url(#b1)"/>
<circle cx="83.2" cy="350.8" r="2.5" fill="#1414e6" filter="url(#b1)"/>
<circle cx="79.0" cy="357.2" r="1.9" fill="#1414e6" filter="url(#b1)"/>
<circle cx="120.7" cy="355.0" r="4.5" fill="#1414e6" filter="url(#b1)"/>
<circle cx="86.3" cy="366.8" r="3.0" fill="#1414e6" filter="url(#b1)"/>
<circle cx="94.8" cy="375.2" r="3.7" fill="#1414e6" filter="url(#b1)"/>
<circle cx="117.9" cy="382.0" r="3.4" fill="#1414e6" filter="url(#b1)"/>
</g>
<g clip-path="url(#h10)"><rect x="76.2" y="390.3" width="51.6" height="53.7" fill="#000"/>
</g>
<g clip-path="url(#h20)"><rect x="76.2" y="446.3" width="51.6" height="53.5" fill="#000"/>
</g>
<g clip-path="url(#h01)"><rect x="130.5" y="333.8" width="51.6" height="54.0" fill="#000"/>
<circle cx="138.7" cy="334.7" r="2.0" fill="#22ee22" filter="url(#b1)"/>
<circle cx="153.4" cy="335.3" r="3.9" fill="#22ee22" filter="url(#b1)"/>
<circle cx="133.1" cy="337.0" r="1.7" fill="#22ee22" filter="url(#b1)"/>
<circle cx="135.4" cy="343.2" r="3.6" fill="#22ee22" filter="url(#b1)"/>
<circle cx="137.6" cy="351.9" r="3.9" fill="#22ee22" filter="url(#b1)"/>
<circle cx="146.1" cy="352.2" r="2.5" fill="#22ee22" filter="url(#b1)"/>
<circle cx="133.7" cy="358.4" r="3.4" fill="#22ee22" filter="url(#b1)"/>
<circle cx="175.1" cy="355.0" r="5.4" fill="#22ee22" filter="url(#b1)"/>
<circle cx="141.6" cy="366.2" r="3.9" fill="#22ee22" filter="url(#b1)"/>
<circle cx="149.4" cy="366.2" r="2.0" fill="#22ee22" filter="url(#b1)"/>
<circle cx="157.9" cy="363.2" r="1.6" fill="#22ee22" filter="url(#b1)"/>
<circle cx="149.2" cy="375.2" r="4.5" fill="#22ee22" filter="url(#b1)"/>
<circle cx="139.3" cy="374.5" r="1.1" fill="#22ee22" filter="url(#b1)"/>
<circle cx="172.3" cy="382.8" r="4.3" fill="#22ee22" filter="url(#b1)"/>
<circle cx="137.0" cy="386.2" r="2.3" fill="#22ee22" filter="url(#b1)"/>
</g>
<g clip-path="url(#h11)"><rect x="130.5" y="390.3" width="51.6" height="53.7" fill="#000"/>
</g>
<g clip-path="url(#h21)"><rect x="130.5" y="446.3" width="51.6" height="53.5" fill="#000"/>
</g>
<g clip-path="url(#h02)"><rect x="184.5" y="333.8" width="51.0" height="54.0" fill="#000"/>
<circle cx="207.0" cy="335.3" r="2.3" fill="#f01010" filter="url(#b1)"/>
<circle cx="189.0" cy="342.9" r="2.8" fill="#f01010" filter="url(#b1)"/>
<circle cx="191.2" cy="351.9" r="3.2" fill="#f01010" filter="url(#b1)"/>
<circle cx="199.8" cy="352.2" r="1.7" fill="#f01010" filter="url(#b1)"/>
<circle cx="187.1" cy="358.4" r="2.3" fill="#f01010" filter="url(#b1)"/>
<circle cx="195.7" cy="364.6" r="2.7" fill="#f01010" filter="url(#b1)"/>
<circle cx="202.8" cy="365.7" r="1.1" fill="#f01010" filter="url(#b1)"/>
<circle cx="202.5" cy="374.7" r="3.4" fill="#f01010" filter="url(#b1)"/>
<circle cx="228.7" cy="355.0" r="4.5" fill="#f01010" filter="url(#b1)"/>
<circle cx="225.7" cy="383.1" r="2.8" fill="#f01010" filter="url(#b1)"/>
<circle cx="191.0" cy="386.5" r="1.4" fill="#f01010" filter="url(#b1)"/>
<circle cx="192.7" cy="334.2" r="0.9" fill="#f01010" filter="url(#b1)"/>
</g>
<g clip-path="url(#h12)"><rect x="184.5" y="390.3" width="51.0" height="53.7" fill="#000"/>
</g>
<g clip-path="url(#h22)"><rect x="184.5" y="446.3" width="51.0" height="53.5" fill="#000"/>
</g>
<g clip-path="url(#h03)"><rect x="238.3" y="333.8" width="51.4" height="54.0" fill="#000"/>
<circle cx="246.7" cy="334.7" r="2.0" fill="#22ee22" filter="url(#b1)"/>
<circle cx="261.4" cy="335.3" r="3.9" fill="#22ee22" filter="url(#b1)"/>
<circle cx="241.1" cy="337.0" r="1.7" fill="#22ee22" filter="url(#b1)"/>
<circle cx="243.4" cy="343.2" r="3.6" fill="#22ee22" filter="url(#b1)"/>
<circle cx="245.6" cy="351.9" r="3.9" fill="#22ee22" filter="url(#b1)"/>
<circle cx="254.1" cy="352.2" r="2.5" fill="#22ee22" filter="url(#b1)"/>
<circle cx="241.7" cy="358.4" r="3.4" fill="#22ee22" filter="url(#b1)"/>
<circle cx="283.1" cy="355.0" r="5.4" fill="#22ee22" filter="url(#b1)"/>
<circle cx="249.6" cy="366.2" r="3.9" fill="#22ee22" filter="url(#b1)"/>
<circle cx="257.4" cy="366.2" r="2.0" fill="#22ee22" filter="url(#b1)"/>
<circle cx="265.9" cy="363.2" r="1.6" fill="#22ee22" filter="url(#b1)"/>
<circle cx="257.2" cy="375.2" r="4.5" fill="#22ee22" filter="url(#b1)"/>
<circle cx="247.3" cy="374.5" r="1.1" fill="#22ee22" filter="url(#b1)"/>
<circle cx="280.3" cy="382.8" r="4.3" fill="#22ee22" filter="url(#b1)"/>
<circle cx="245.0" cy="386.2" r="2.3" fill="#22ee22" filter="url(#b1)"/>
<circle cx="261.4" cy="335.3" r="2.8" fill="#d8fff0" filter="url(#b1)"/>
<circle cx="243.4" cy="343.2" r="2.5" fill="#f0f050" filter="url(#b1)"/>
<circle cx="245.6" cy="351.9" r="2.8" fill="#f2f040" filter="url(#b1)"/>
<circle cx="241.7" cy="358.4" r="2.4" fill="#d8f040" filter="url(#b1)"/>
<circle cx="283.1" cy="355.0" r="3.8" fill="#fbfff0" filter="url(#b1)"/>
<circle cx="249.6" cy="366.2" r="2.8" fill="#b0f0c8" filter="url(#b1)"/>
<circle cx="257.2" cy="375.2" r="3.2" fill="#eefff0" filter="url(#b1)"/>
<circle cx="280.3" cy="382.8" r="3.0" fill="#d8f8b0" filter="url(#b1)"/>
</g>
<g clip-path="url(#h13)"><rect x="238.3" y="390.3" width="51.4" height="53.7" fill="#000"/>
</g>
<g clip-path="url(#h23)"><rect x="238.3" y="446.3" width="51.4" height="53.5" fill="#000"/>
</g>
<g clip-path="url(#h04)"><rect x="291.6" y="333.8" width="53.5" height="54.0" fill="#000"/>
<ellipse cx="307.6" cy="331.8" rx="13" ry="9" fill="#22dd22" filter="url(#b3)"/>
<circle cx="298.6" cy="383.8" r="16" fill="#55dd55" filter="url(#b3)"/>
<circle cx="296.6" cy="385.8" r="9" fill="#c8f0a0" filter="url(#b4)"/>
<circle cx="316.3" cy="361.5" r="18.6" fill="#1ee01e" filter="url(#b1)"/>
<circle cx="316.3" cy="361.5" r="15.5" fill="#e8f040" filter="url(#b3)"/>
<circle cx="316.3" cy="362" r="10" fill="#fafa90" filter="url(#b4)"/>
</g>
<g clip-path="url(#h14)"><rect x="291.6" y="390.3" width="53.5" height="53.7" fill="#000"/>
</g>
<g clip-path="url(#h24)"><rect x="291.6" y="446.3" width="53.5" height="53.5" fill="#000"/>
</g>
<circle cx="119.0" cy="406.0" r="1.5" fill="#1a1a80" filter="url(#b2)" opacity="0.45"/>
<circle cx="92.5" cy="413.3" r="1.5" fill="#1a1a80" filter="url(#b2)" opacity="0.45"/>
<circle cx="108.9" cy="429.1" r="1.5" fill="#1a1a80" filter="url(#b2)" opacity="0.45"/>
<circle cx="86.9" cy="431.3" r="1.5" fill="#1a1a80" filter="url(#b2)" opacity="0.45"/>
<circle cx="102.1" cy="401.5" r="1.5" fill="#1a1a80" filter="url(#b2)" opacity="0.45"/>
<circle cx="121.2" cy="439.8" r="1.5" fill="#1a1a80" filter="url(#b2)" opacity="0.45"/>
<circle cx="108.3" cy="455.8" r="1.5" fill="#1a1a80" filter="url(#b2)" opacity="0.45"/>
<circle cx="112.0" cy="453.0" r="1.5" fill="#1a1a80" filter="url(#b2)" opacity="0.45"/>
<circle cx="104.6" cy="468.0" r="1.5" fill="#1a1a80" filter="url(#b2)" opacity="0.45"/>
<circle cx="117.3" cy="477.4" r="1.5" fill="#1a1a80" filter="url(#b2)" opacity="0.45"/>
<circle cx="94.0" cy="482.6" r="1.5" fill="#1a1a80" filter="url(#b2)" opacity="0.45"/>
<circle cx="93.1" cy="489.0" r="1.5" fill="#1a1a80" filter="url(#b2)" opacity="0.45"/>
<g clip-path="url(#h11)">
<circle cx="162.4" cy="400.7" r="1.1" fill="#22ee22" filter="url(#b0)"/>
<circle cx="174.2" cy="407.4" r="2.5" fill="#22ee22" filter="url(#b0)"/>
<circle cx="138.5" cy="409.8" r="2.0" fill="#22ee22" filter="url(#b0)"/>
<circle cx="147.4" cy="414.3" r="2.3" fill="#22ee22" filter="url(#b0)"/>
<circle cx="161.6" cy="419.0" r="1.2" fill="#22ee22" filter="url(#b0)"/>
<circle cx="147.0" cy="424.3" r="1.7" fill="#22ee22" filter="url(#b0)"/>
<circle cx="163.2" cy="430.3" r="2.3" fill="#22ee22" filter="url(#b0)"/>
<circle cx="141.8" cy="432.4" r="2.4" fill="#22ee22" filter="url(#b0)"/>
<circle cx="176.7" cy="441.2" r="1.9" fill="#22ee22" filter="url(#b0)"/>
</g>
<g clip-path="url(#h13)">
<circle cx="270.2" cy="400.7" r="1.1" fill="#22ee22" filter="url(#b0)"/>
<circle cx="282.0" cy="407.4" r="2.5" fill="#22ee22" filter="url(#b0)"/>
<circle cx="246.3" cy="409.8" r="2.0" fill="#22ee22" filter="url(#b0)"/>
<circle cx="255.2" cy="414.3" r="2.3" fill="#22ee22" filter="url(#b0)"/>
<circle cx="269.4" cy="419.0" r="1.2" fill="#22ee22" filter="url(#b0)"/>
<circle cx="254.8" cy="424.3" r="1.7" fill="#22ee22" filter="url(#b0)"/>
<circle cx="271.0" cy="430.3" r="2.3" fill="#22ee22" filter="url(#b0)"/>
<circle cx="249.6" cy="432.4" r="2.4" fill="#22ee22" filter="url(#b0)"/>
<circle cx="284.5" cy="441.2" r="1.9" fill="#22ee22" filter="url(#b0)"/>
</g>
<circle cx="318.1" cy="417.1" r="10.5" fill="#22ee22" filter="url(#b0)"/>
<circle cx="165.3" cy="452.1" r="2.0" fill="#22ee22" filter="url(#b0)"/>
<circle cx="161.7" cy="455.5" r="2.1" fill="#22ee22" filter="url(#b0)"/>
<circle cx="158.0" cy="467.7" r="2.3" fill="#22ee22" filter="url(#b0)"/>
<circle cx="170.7" cy="477.0" r="2.3" fill="#22ee22" filter="url(#b0)"/>
<circle cx="147.4" cy="482.6" r="2.2" fill="#22ee22" filter="url(#b0)"/>
<circle cx="146.7" cy="489.0" r="2.3" fill="#22ee22" filter="url(#b0)"/>
<circle cx="273.1" cy="452.1" r="2.0" fill="#55ee22" filter="url(#b0)"/>
<circle cx="273.1" cy="452.1" r="1.1" fill="#f0f020" filter="url(#b0)"/>
<circle cx="269.5" cy="455.5" r="2.1" fill="#55ee22" filter="url(#b0)"/>
<circle cx="269.5" cy="455.5" r="1.2" fill="#f0f020" filter="url(#b0)"/>
<circle cx="265.8" cy="467.7" r="2.3" fill="#55ee22" filter="url(#b0)"/>
<circle cx="265.8" cy="467.7" r="1.3" fill="#f0f020" filter="url(#b0)"/>
<circle cx="278.5" cy="477.0" r="2.3" fill="#55ee22" filter="url(#b0)"/>
<circle cx="278.5" cy="477.0" r="1.3" fill="#f0f020" filter="url(#b0)"/>
<circle cx="255.2" cy="482.6" r="2.2" fill="#55ee22" filter="url(#b0)"/>
<circle cx="255.2" cy="482.6" r="1.2" fill="#f0f020" filter="url(#b0)"/>
<circle cx="254.5" cy="489.0" r="2.3" fill="#55ee22" filter="url(#b0)"/>
<circle cx="254.5" cy="489.0" r="1.3" fill="#f0f020" filter="url(#b0)"/>
<circle cx="219.3" cy="452.1" r="1.5" fill="#f01010" filter="url(#b1)"/>
<circle cx="215.7" cy="455.5" r="1.6" fill="#f01010" filter="url(#b1)"/>
<circle cx="212.0" cy="467.7" r="1.7" fill="#f01010" filter="url(#b1)"/>
<circle cx="224.7" cy="477.0" r="1.7" fill="#f01010" filter="url(#b1)"/>
<circle cx="201.4" cy="482.6" r="1.7" fill="#f01010" filter="url(#b1)"/>
<circle cx="200.7" cy="489.0" r="1.7" fill="#f01010" filter="url(#b1)"/>
<circle cx="316.3" cy="473.1" r="12.2" fill="#33dd22" filter="url(#b2)"/>
<circle cx="316.0" cy="472.6" r="9.0" fill="#e8ee30" filter="url(#b3)"/>
<circle cx="316.0" cy="472.6" r="5.5" fill="#f6f660" filter="url(#b3)"/>
<circle cx="245.3" cy="352" r="4.7" stroke="#fff" stroke-width="1.1" fill="none" stroke-dasharray="1.6 1.2"/>
<line x1="246.7" y1="347.4" x2="289" y2="334.3" stroke="#fff" stroke-width="1.1" fill="none" stroke-dasharray="1.6 1.2"/>
<line x1="246.2" y1="356.6" x2="289" y2="387.6" stroke="#fff" stroke-width="1.1" fill="none" stroke-dasharray="1.6 1.2"/>
<circle cx="281.6" cy="407.4" r="5.1" stroke="#fff" stroke-width="1.1" fill="none" stroke-dasharray="1.6 1.2"/>
<line x1="282.5" y1="402.3" x2="289.3" y2="391" stroke="#fff" stroke-width="1.1" fill="none" stroke-dasharray="1.6 1.2"/>
<line x1="280.6" y1="412.4" x2="288.6" y2="443.5" stroke="#fff" stroke-width="1.1" fill="none" stroke-dasharray="1.6 1.2"/>
<circle cx="265.8" cy="467.7" r="5.1" stroke="#fff" stroke-width="1.1" fill="none" stroke-dasharray="1.6 1.2"/>
<line x1="268.5" y1="463.4" x2="289.3" y2="446.6" stroke="#fff" stroke-width="1.1" fill="none" stroke-dasharray="1.6 1.2"/>
<line x1="268.5" y1="472" x2="289.3" y2="499.6" stroke="#fff" stroke-width="1.1" fill="none" stroke-dasharray="1.6 1.2"/>
<circle cx="316.3" cy="361.5" r="19.3" stroke="#fff" stroke-width="1.8" fill="none" stroke-dasharray="2.8 1.3"/>
<circle cx="316.3" cy="361.5" r="14.1" stroke="#d05060" stroke-width="1.3" fill="none" stroke-dasharray="2.2 1.6"/>
<circle cx="318.1" cy="417.1" r="12" stroke="#fff" stroke-width="1.8" fill="none" stroke-dasharray="2.8 1.3"/>
<circle cx="316.3" cy="473.1" r="13.2" stroke="#fff" stroke-width="1.8" fill="none" stroke-dasharray="2.8 1.3"/>
<circle cx="316.3" cy="473.1" r="6.6" stroke="#d05060" stroke-width="1.3" fill="none" stroke-dasharray="2.2 1.6"/>
<rect x="78.2" y="385.1" width="8.700000000000003" height="1.6999999999999886" fill="#fff"/>
<rect x="78.2" y="442.0" width="7.799999999999997" height="1.6999999999999886" fill="#fff"/>
<rect x="78.7" y="496.9" width="8.200000000000003" height="1.8000000000000114" fill="#fff"/>
<rect x="439.8" y="30.4" width="540.2" height="20.6" fill="none"/>
<rect x="439.85" y="30.55" width="540.1" height="220.6" fill="#edf2f7" stroke="#000" stroke-width="2.7"/>
<rect x="439.85" y="274.65" width="540.1" height="232.5" fill="#deeff7" stroke="#000" stroke-width="2.7"/>
<circle cx="589.8" cy="407.5" r="85" fill="url(#gBig)" stroke="#9aaab6" stroke-width="1"/>
<ellipse cx="539" cy="403.5" rx="33.6" ry="20.9" fill="url(#gL)" stroke="#6d7d86" stroke-width="0.9"/>
<ellipse cx="639" cy="402.5" rx="31.2" ry="21" fill="url(#gP)" stroke="#6d7d86" stroke-width="0.9"/>
<ellipse cx="589.4" cy="424.9" rx="34" ry="19.6" fill="url(#gC)" stroke="#6d7d86" stroke-width="0.9"/>
<ellipse cx="589.5" cy="386.7" rx="34.5" ry="20.9" fill="url(#gT)" stroke="#6d7d86" stroke-width="0.9"/>
<circle cx="624.3" cy="374.2" r="10.6" fill="#7b8d9b" stroke="#4a5660" stroke-width="1"/>
<text x="624.2" y="378.5" font-size="12" font-weight="bold" stroke="#fff" stroke-width="0.22" fill="#fff" text-anchor="middle" >P</text>
<circle cx="624.3" cy="432" r="10.6" fill="#7b8d9b" stroke="#4a5660" stroke-width="1"/>
<text x="624.2" y="436.3" font-size="12" font-weight="bold" stroke="#fff" stroke-width="0.22" fill="#fff" text-anchor="middle" >P</text>
<text x="588.4" y="393.6" font-size="12" font-weight="bold" stroke="#111" stroke-width="0.22" fill="#111" text-anchor="middle" >TCP22</text>
<text x="539" y="409" font-size="12" font-weight="bold" stroke="#111" stroke-width="0.22" fill="#111" text-anchor="middle" >LWDs</text>
<text x="638.5" y="409" font-size="12" font-weight="bold" stroke="#111" stroke-width="0.22" fill="#111" text-anchor="middle" >PPKs</text>
<text x="584.6" y="431.1" font-size="12" font-weight="bold" stroke="#111" stroke-width="0.22" fill="#111" text-anchor="middle" >CRY2</text>
<text x="487.3" y="311.0" font-size="12" font-weight="bold" stroke="#111" stroke-width="0.22" fill="#111" text-anchor="start" >Blue light</text>
<path d="M457.1,317.7 L474.5,308.8 L481.6,325.2 L478.8,327.2 L487.4,340.8 L485.1,342.4 L496.3,367.3 L474.9,347.6 L478.6,344.6 L466.1,333.3 L471.1,329.9 Z" fill="#2b80cf" stroke="#111" stroke-width="1" stroke-linejoin="miter"/>
<path d="M809.7,350.6 C770,305 715,290 660,292.5 C610,295 565,315 552,345 C548,357 545,368 544.6,377.4" fill="none" stroke="#1a1212" stroke-width="2.9" stroke-linecap="butt"/>
<path d="M660,292.5 C625,294 600,310 591,330 C586,340 584.6,350 584.4,358.4" fill="none" stroke="#1a1212" stroke-width="2.9" stroke-linecap="butt"/>
<line x1="537.6" y1="377.6" x2="551.6" y2="377.6" stroke="#1a1212" stroke-width="2.6"/>
<line x1="577" y1="358.6" x2="592" y2="358.6" stroke="#1a1212" stroke-width="2.6"/>
<ellipse cx="846.2" cy="378.8" rx="40.3" ry="24.4" fill="url(#gCCA)" stroke="#8a9088" stroke-width="0.9"/>
<text x="846" y="385.4" font-size="12" font-weight="bold" stroke="#111" stroke-width="0.22" fill="#111" text-anchor="middle" >CCA1</text>
<text x="961.0" y="295.9" font-size="12" font-weight="bold" stroke="#111" stroke-width="0.22" fill="#111" text-anchor="end" >Blue light input loop</text>
<text x="964.6" y="317.6" font-size="12" font-weight="bold" fill="#111" stroke="#111" stroke-width="0.22" text-anchor="end">(CRY2 to <tspan font-style="italic">CCA1</tspan>)</text>
<line x1="487.7" y1="484.2" x2="957.4" y2="484.2" stroke="#1a1212" stroke-width="3"/>
<rect x="549.8" y="471.8" width="80.2" height="24.2" fill="#7cc9f0" stroke="#1a1212" stroke-width="2"/>
<text x="587.6" y="489.2" font-size="12" font-weight="bold" stroke="#111" stroke-width="0.22" fill="#111" text-anchor="middle" >TBS</text>
<rect x="785.8" y="471" width="113" height="22.2" fill="#f7f0b0" stroke="#1a1212" stroke-width="2"/>
<text x="841.2" y="487.2" font-size="12.8" font-weight="bold" stroke="#111" stroke-width="0.22" font-style="italic" fill="#111" text-anchor="middle" >CCA1</text>
<path d="M778,484 L778,453.7 L828,453.7" fill="none" stroke="#1a1212" stroke-width="2"/>
<path d="M827,449.2 L836.5,453.7 L827,458.2 Z" fill="#1a1212"/>
<path d="M677.9,422.9 C688,445 712,466 755,473.5" fill="none" stroke="#1b6fbd" stroke-width="2.8"/>
<path d="M752,467 L763.5,474.6 L750.5,479.5 Z" fill="#1b6fbd"/>
<path d="M917.7,475.3 C935,450 930,420 900,403" fill="none" stroke="#1b6fbd" stroke-width="2.8"/>
<path d="M894,398.5 L906.5,399.5 L898.5,409 Z" fill="#1b6fbd"/>
<rect x="562.6" y="38.4" width="98.79999999999995" height="205.6" rx="49.39999999999998" ry="49.39999999999998" fill="none" stroke="#a3ad6e" stroke-width="1.3" stroke-dasharray="3.2 2.6"/>
<rect x="701.9" y="38.4" width="97.20000000000005" height="205.6" rx="48.60000000000002" ry="48.60000000000002" fill="none" stroke="#eaa2a4" stroke-width="1.3" stroke-dasharray="3.2 2.6"/>
<rect x="842.4" y="38.6" width="129.0" height="205.4" rx="64.5" ry="64.5" fill="none" stroke="#92cdb6" stroke-width="1.3" stroke-dasharray="3.2 2.6"/>
<circle cx="490.2" cy="197.4" r="25" fill="#fff" stroke="#555" stroke-width="1.6"/><line x1="490.20" y1="172.90" x2="490.20" y2="177.60" stroke="#555" stroke-width="1.2"/><line x1="502.45" y1="176.18" x2="501.20" y2="178.35" stroke="#555" stroke-width="1.2"/><line x1="511.42" y1="185.15" x2="509.25" y2="186.40" stroke="#555" stroke-width="1.2"/><line x1="514.70" y1="197.40" x2="510.00" y2="197.40" stroke="#555" stroke-width="1.2"/><line x1="511.42" y1="209.65" x2="509.25" y2="208.40" stroke="#555" stroke-width="1.2"/><line x1="502.45" y1="218.62" x2="501.20" y2="216.45" stroke="#555" stroke-width="1.2"/><line x1="490.20" y1="221.90" x2="490.20" y2="217.20" stroke="#555" stroke-width="1.2"/><line x1="477.95" y1="218.62" x2="479.20" y2="216.45" stroke="#555" stroke-width="1.2"/><line x1="468.98" y1="209.65" x2="471.15" y2="208.40" stroke="#555" stroke-width="1.2"/><line x1="465.70" y1="197.40" x2="470.40" y2="197.40" stroke="#555" stroke-width="1.2"/><line x1="468.98" y1="185.15" x2="471.15" y2="186.40" stroke="#555" stroke-width="1.2"/><line x1="477.95" y1="176.18" x2="479.20" y2="178.35" stroke="#555" stroke-width="1.2"/><path d="M491.65,197.40 L490.20,177.40 L488.75,197.40 Z" fill="#111"/><circle cx="490.2" cy="197.4" r="1.7" fill="#fff" stroke="#111" stroke-width="1"/>
<circle cx="614.0" cy="197.2" r="25" fill="#fff" stroke="#555" stroke-width="1.6"/><line x1="614.00" y1="172.70" x2="614.00" y2="177.40" stroke="#555" stroke-width="1.2"/><line x1="626.25" y1="175.98" x2="625.00" y2="178.15" stroke="#555" stroke-width="1.2"/><line x1="635.22" y1="184.95" x2="633.05" y2="186.20" stroke="#555" stroke-width="1.2"/><line x1="638.50" y1="197.20" x2="633.80" y2="197.20" stroke="#555" stroke-width="1.2"/><line x1="635.22" y1="209.45" x2="633.05" y2="208.20" stroke="#555" stroke-width="1.2"/><line x1="626.25" y1="218.42" x2="625.00" y2="216.25" stroke="#555" stroke-width="1.2"/><line x1="614.00" y1="221.70" x2="614.00" y2="217.00" stroke="#555" stroke-width="1.2"/><line x1="601.75" y1="218.42" x2="603.00" y2="216.25" stroke="#555" stroke-width="1.2"/><line x1="592.78" y1="209.45" x2="594.95" y2="208.20" stroke="#555" stroke-width="1.2"/><line x1="589.50" y1="197.20" x2="594.20" y2="197.20" stroke="#555" stroke-width="1.2"/><line x1="592.78" y1="184.95" x2="594.95" y2="186.20" stroke="#555" stroke-width="1.2"/><line x1="601.75" y1="175.98" x2="603.00" y2="178.15" stroke="#555" stroke-width="1.2"/><path d="M615.45,197.20 L614.00,177.20 L612.55,197.20 Z" fill="#111"/><circle cx="614.0" cy="197.2" r="1.7" fill="#fff" stroke="#111" stroke-width="1"/>
<circle cx="749.7" cy="197.2" r="25" fill="#fff" stroke="#555" stroke-width="1.6"/><line x1="749.70" y1="172.70" x2="749.70" y2="177.40" stroke="#555" stroke-width="1.2"/><line x1="761.95" y1="175.98" x2="760.70" y2="178.15" stroke="#555" stroke-width="1.2"/><line x1="770.92" y1="184.95" x2="768.75" y2="186.20" stroke="#555" stroke-width="1.2"/><line x1="774.20" y1="197.20" x2="769.50" y2="197.20" stroke="#555" stroke-width="1.2"/><line x1="770.92" y1="209.45" x2="768.75" y2="208.20" stroke="#555" stroke-width="1.2"/><line x1="761.95" y1="218.42" x2="760.70" y2="216.25" stroke="#555" stroke-width="1.2"/><line x1="749.70" y1="221.70" x2="749.70" y2="217.00" stroke="#555" stroke-width="1.2"/><line x1="737.45" y1="218.42" x2="738.70" y2="216.25" stroke="#555" stroke-width="1.2"/><line x1="728.48" y1="209.45" x2="730.65" y2="208.20" stroke="#555" stroke-width="1.2"/><line x1="725.20" y1="197.20" x2="729.90" y2="197.20" stroke="#555" stroke-width="1.2"/><line x1="728.48" y1="184.95" x2="730.65" y2="186.20" stroke="#555" stroke-width="1.2"/><line x1="737.45" y1="175.98" x2="738.70" y2="178.15" stroke="#555" stroke-width="1.2"/><path d="M751.15,197.20 L749.70,177.20 L748.25,197.20 Z" fill="#111"/><circle cx="749.7" cy="197.2" r="1.7" fill="#fff" stroke="#111" stroke-width="1"/>
<circle cx="897.6" cy="198.1" r="25" fill="#fff" stroke="#555" stroke-width="1.6"/><line x1="897.60" y1="173.60" x2="897.60" y2="178.30" stroke="#555" stroke-width="1.2"/><line x1="909.85" y1="176.88" x2="908.60" y2="179.05" stroke="#555" stroke-width="1.2"/><line x1="918.82" y1="185.85" x2="916.65" y2="187.10" stroke="#555" stroke-width="1.2"/><line x1="922.10" y1="198.10" x2="917.40" y2="198.10" stroke="#555" stroke-width="1.2"/><line x1="918.82" y1="210.35" x2="916.65" y2="209.10" stroke="#555" stroke-width="1.2"/><line x1="909.85" y1="219.32" x2="908.60" y2="217.15" stroke="#555" stroke-width="1.2"/><line x1="897.60" y1="222.60" x2="897.60" y2="217.90" stroke="#555" stroke-width="1.2"/><line x1="885.35" y1="219.32" x2="886.60" y2="217.15" stroke="#555" stroke-width="1.2"/><line x1="876.38" y1="210.35" x2="878.55" y2="209.10" stroke="#555" stroke-width="1.2"/><line x1="873.10" y1="198.10" x2="877.80" y2="198.10" stroke="#555" stroke-width="1.2"/><line x1="876.38" y1="185.85" x2="878.55" y2="187.10" stroke="#555" stroke-width="1.2"/><line x1="885.35" y1="176.88" x2="886.60" y2="179.05" stroke="#555" stroke-width="1.2"/><path d="M898.91,198.71 L905.00,182.24 L896.29,197.49 Z" fill="#111"/><path d="M896.34,198.82 L902.85,207.19 L898.86,197.38 Z" fill="#111"/><circle cx="897.6" cy="198.1" r="1.7" fill="#fff" stroke="#111" stroke-width="1"/>
<line x1="922.6" y1="198.1" x2="927.2" y2="198.1" stroke="#555" stroke-width="1.5"/>
<circle cx="930" cy="195.4" r="2.5" fill="#fff" stroke="#555" stroke-width="1.2"/><circle cx="930" cy="200.7" r="2.5" fill="#fff" stroke="#555" stroke-width="1.2"/>
<path d="M938.2,190.8 C935.2,195.5 935.6,205.6 940.4,206.2 C945.4,206.6 946.4,198.5 944.4,193.6" fill="none" stroke="#222" stroke-width="1.3"/>
<path d="M942.0,194.6 L944.3,189.6 L946.8,194.4 Z" fill="#222"/>
<path d="M482.9,93.80000000000001 c1.8,-2 -2.0,-3.6 -0.4,-5.6 c1.5,-1.9 -1.5,-2.6 -0.7,-3.6" fill="none" stroke="#c9a86a" stroke-width="1.15"/><path d="M483.4,105.0 c-2.0,2.2 2.0,3.8 0.2,6.0 c-1.8,2.2 1.9,2.9 1.3,4.4" fill="none" stroke="#c9a86a" stroke-width="1.15"/><path d="M475.2,101.5 c-2.0,2.0 2.0,3.5 0.1,5.4 c-1.8,1.8 1.7,2.7 0.4,3.8" fill="none" stroke="#7fa3c8" stroke-width="1.15"/><ellipse cx="475.2" cy="96.5" rx="4.2" ry="5.3" fill="url(#gBB)" stroke="#8aa7c2" stroke-width="0.5"/><ellipse cx="483.4" cy="99.4" rx="4.1" ry="5.9" fill="url(#gOB)" stroke="#d08a4a" stroke-width="0.5"/>
<path d="M504.5,95.80000000000001 c1.8,-2 -2.0,-3.6 -0.4,-5.6 c1.5,-1.9 -1.5,-2.6 -0.7,-3.6" fill="none" stroke="#c9a86a" stroke-width="1.15"/><path d="M505.0,107.0 c-2.0,2.2 2.0,3.8 0.2,6.0 c-1.8,2.2 1.9,2.9 1.3,4.4" fill="none" stroke="#c9a86a" stroke-width="1.15"/><path d="M496.1,103.0 c-2.0,2.0 2.0,3.5 0.1,5.4 c-1.8,1.8 1.7,2.7 0.4,3.8" fill="none" stroke="#7fa3c8" stroke-width="1.15"/><ellipse cx="496.1" cy="98.0" rx="4.2" ry="5.3" fill="url(#gBB)" stroke="#8aa7c2" stroke-width="0.5"/><ellipse cx="505.0" cy="101.4" rx="4.1" ry="5.9" fill="url(#gOB)" stroke="#d08a4a" stroke-width="0.5"/>
<path d="M494.1,119.30000000000001 c1.8,-2 -2.0,-3.6 -0.4,-5.6 c1.5,-1.9 -1.5,-2.6 -0.7,-3.6" fill="none" stroke="#c9a86a" stroke-width="1.15"/><path d="M494.6,130.5 c-2.0,2.2 2.0,3.8 0.2,6.0 c-1.8,2.2 1.9,2.9 1.3,4.4" fill="none" stroke="#c9a86a" stroke-width="1.15"/><path d="M486.6,127.7 c-2.0,2.0 2.0,3.5 0.1,5.4 c-1.8,1.8 1.7,2.7 0.4,3.8" fill="none" stroke="#7fa3c8" stroke-width="1.15"/><ellipse cx="486.6" cy="122.7" rx="4.2" ry="5.3" fill="url(#gBB)" stroke="#8aa7c2" stroke-width="0.5"/><ellipse cx="494.6" cy="124.9" rx="4.1" ry="5.9" fill="url(#gOB)" stroke="#d08a4a" stroke-width="0.5"/>
<text x="444.0" y="141.6" font-size="12" fill="#3b7fc0" text-anchor="start" >CRY2</text>
<text x="502.2" y="144.9" font-size="12" fill="#f09a4c" text-anchor="start" >TCP22</text>
<text x="527.6" y="83.3" font-size="11.2" fill="#4a78c4" text-anchor="start" >BL</text>
<path d="M533.3,90.4 L538.6,93.3 L536.3,96.0 L537.6,96.9 L533.6,101.4 L534.8,102.3 L526,107.9 L530.2,100.6 L529.0,99.7 L532.4,95.2 L531.2,94.3 Z" fill="#3f72d4" stroke="#111" stroke-width="0.9"/>
<line x1="518.7" y1="111.6" x2="541" y2="111.6" stroke="#fff" stroke-width="4.5"/>
<line x1="518.7" y1="111.6" x2="541" y2="111.6" stroke="#000" stroke-width="2.4"/>
<path d="M537.6,107.0 L548.2,111.6 L537.6,116.2 L539.6,111.6 Z" fill="#000" stroke="#fff" stroke-width="0.6"/>
<line x1="667.8" y1="111.8" x2="690.6" y2="111.8" stroke="#1b3268" stroke-width="3.2"/>
<path d="M687.1,107.0 L699.6,111.8 L687.1,116.6 L689.6,111.8 Z" fill="#2d62b6" stroke="#111a40" stroke-width="0.9"/>
<line x1="807.6" y1="111.8" x2="830.4" y2="111.8" stroke="#1b3268" stroke-width="3.2"/>
<path d="M826.9,107.0 L839.4,111.8 L826.9,116.6 L829.4,111.8 Z" fill="#2d62b6" stroke="#111a40" stroke-width="0.9"/>
<path d="M680.8,95.5 C679.5,101 681,106 685.5,108.5" fill="none" stroke="#111" stroke-width="0.9"/>
<path d="M684,106.2 L688,109.6 L683,110.3 Z" fill="#111"/>
<path d="M820.5,94 C819,100 820.5,105 825,107.5" fill="none" stroke="#111" stroke-width="0.9"/>
<path d="M823.5,105.2 L827.5,108.6 L822.5,109.3 Z" fill="#111"/>
<text x="663.3" y="66.0" font-size="11.6" fill="#c4434d" text-anchor="start" >PPKs</text>
<ellipse cx="679.9" cy="75.1" rx="4.8" ry="5.8" fill="url(#gPB)" stroke="#d07078" stroke-width="0.4"/>
<ellipse cx="673.1" cy="88.5" rx="4.8" ry="5.8" fill="url(#gPB)" stroke="#d07078" stroke-width="0.4"/>
<ellipse cx="689.6" cy="90.1" rx="4.8" ry="5.8" fill="url(#gPB)" stroke="#d07078" stroke-width="0.4"/>
<text x="801.4" y="66.0" font-size="11.6" fill="#3f8f72" text-anchor="start" >LWDs</text>
<rect x="812.8" y="70.10000000000001" width="10.4" height="11.6" rx="4.6" ry="5.4" fill="url(#gGB)" stroke="#4e9e7e" stroke-width="0.4"/>
<rect x="828.4" y="70.10000000000001" width="10.4" height="11.6" rx="4.6" ry="5.4" fill="url(#gGB)" stroke="#4e9e7e" stroke-width="0.4"/>
<rect x="819.0" y="86.4" width="10.4" height="11.6" rx="4.6" ry="5.4" fill="url(#gGB)" stroke="#4e9e7e" stroke-width="0.4"/>
<line x1="570.2" y1="135.2" x2="571.8" y2="125.2" stroke="#555" stroke-width="0.85"/><line x1="572.6" y1="134.9" x2="574.2" y2="125.5" stroke="#555" stroke-width="0.85"/><line x1="575.0" y1="134.0" x2="576.6" y2="126.4" stroke="#555" stroke-width="0.85"/><line x1="577.4" y1="132.5" x2="579.0" y2="127.9" stroke="#555" stroke-width="0.85"/><line x1="582.2" y1="131.6" x2="583.8" y2="128.8" stroke="#555" stroke-width="0.85"/><line x1="584.6" y1="133.2" x2="586.2" y2="127.2" stroke="#555" stroke-width="0.85"/><line x1="587.0" y1="134.5" x2="588.6" y2="125.9" stroke="#555" stroke-width="0.85"/><line x1="589.4" y1="135.1" x2="591.0" y2="125.3" stroke="#555" stroke-width="0.85"/><line x1="591.8" y1="135.1" x2="593.4" y2="125.3" stroke="#555" stroke-width="0.85"/><line x1="594.2" y1="134.3" x2="595.8" y2="126.1" stroke="#555" stroke-width="0.85"/><line x1="596.6" y1="133.0" x2="598.2" y2="127.4" stroke="#555" stroke-width="0.85"/><line x1="603.8" y1="132.7" x2="605.4" y2="127.7" stroke="#555" stroke-width="0.85"/><line x1="606.2" y1="134.1" x2="607.8" y2="126.3" stroke="#555" stroke-width="0.85"/><line x1="608.6" y1="135.0" x2="610.2" y2="125.4" stroke="#555" stroke-width="0.85"/><line x1="611.0" y1="135.2" x2="612.6" y2="125.2" stroke="#555" stroke-width="0.85"/><line x1="613.4" y1="134.7" x2="615.0" y2="125.7" stroke="#555" stroke-width="0.85"/><line x1="615.8" y1="133.5" x2="617.4" y2="126.9" stroke="#555" stroke-width="0.85"/><line x1="618.2" y1="131.9" x2="619.8" y2="128.5" stroke="#555" stroke-width="0.85"/><line x1="623.0" y1="132.2" x2="624.6" y2="128.2" stroke="#555" stroke-width="0.85"/><line x1="625.4" y1="133.7" x2="627.0" y2="126.7" stroke="#555" stroke-width="0.85"/><line x1="627.8" y1="134.8" x2="629.4" y2="125.6" stroke="#555" stroke-width="0.85"/><line x1="630.2" y1="135.2" x2="631.8" y2="125.2" stroke="#555" stroke-width="0.85"/><line x1="632.6" y1="134.9" x2="634.2" y2="125.5" stroke="#555" stroke-width="0.85"/><line x1="635.0" y1="134.0" x2="636.6" y2="126.4" stroke="#555" stroke-width="0.85"/><line x1="637.4" y1="132.5" x2="639.0" y2="127.9" stroke="#555" stroke-width="0.85"/><line x1="642.2" y1="131.6" x2="643.8" y2="128.8" stroke="#555" stroke-width="0.85"/><line x1="644.6" y1="133.2" x2="646.2" y2="127.2" stroke="#555" stroke-width="0.85"/><line x1="647.0" y1="134.5" x2="648.6" y2="125.9" stroke="#555" stroke-width="0.85"/><line x1="649.4" y1="135.1" x2="651.0" y2="125.3" stroke="#555" stroke-width="0.85"/><polyline points="569.5,135.0 570.5,135.2 571.6,135.2 572.6,135.1 573.6,134.8 574.7,134.5 575.7,134.0 576.7,133.5 577.8,132.8 578.8,132.1 579.8,131.3 580.8,130.5 581.9,129.7 582.9,128.9 583.9,128.1 585.0,127.4 586.0,126.8 587.0,126.2 588.1,125.8 589.1,125.5 590.1,125.3 591.2,125.2 592.2,125.3 593.2,125.4 594.2,125.8 595.3,126.2 596.3,126.7 597.3,127.3 598.4,128.0 599.4,128.8 600.4,129.6 601.5,130.4 602.5,131.2 603.5,132.0 604.6,132.7 605.6,133.4 606.6,134.0 607.7,134.4 608.7,134.8 609.7,135.1 610.8,135.2 611.8,135.2 612.8,135.0 613.8,134.8 614.9,134.4 615.9,133.9 616.9,133.3 618.0,132.6 619.0,131.9 620.0,131.1 621.1,130.3 622.1,129.5 623.1,128.7 624.2,128.0 625.2,127.3 626.2,126.7 627.2,126.1 628.3,125.7 629.3,125.4 630.3,125.2 631.4,125.2 632.4,125.3 633.4,125.5 634.5,125.8 635.5,126.3 636.5,126.8 637.6,127.5 638.6,128.2 639.6,129.0 640.7,129.8 641.7,130.6 642.7,131.4 643.8,132.1 644.8,132.9 645.8,133.5 646.8,134.1 647.9,134.5 648.9,134.9 649.9,135.1 651.0,135.2 652.0,135.2" fill="none" stroke="#a2b070" stroke-width="1.3"/><polyline points="569.5,125.4 570.5,125.2 571.6,125.2 572.6,125.3 573.6,125.6 574.7,125.9 575.7,126.4 576.7,126.9 577.8,127.6 578.8,128.3 579.8,129.1 580.8,129.9 581.9,130.7 582.9,131.5 583.9,132.3 585.0,133.0 586.0,133.6 587.0,134.2 588.1,134.6 589.1,134.9 590.1,135.1 591.2,135.2 592.2,135.1 593.2,135.0 594.2,134.6 595.3,134.2 596.3,133.7 597.3,133.1 598.4,132.4 599.4,131.6 600.4,130.8 601.5,130.0 602.5,129.2 603.5,128.4 604.6,127.7 605.6,127.0 606.6,126.4 607.7,126.0 608.7,125.6 609.7,125.3 610.8,125.2 611.8,125.2 612.8,125.4 613.8,125.6 614.9,126.0 615.9,126.5 616.9,127.1 618.0,127.8 619.0,128.5 620.0,129.3 621.1,130.1 622.1,130.9 623.1,131.7 624.2,132.4 625.2,133.1 626.2,133.7 627.2,134.3 628.3,134.7 629.3,135.0 630.3,135.2 631.4,135.2 632.4,135.1 633.4,134.9 634.5,134.6 635.5,134.1 636.5,133.6 637.6,132.9 638.6,132.2 639.6,131.4 640.7,130.6 641.7,129.8 642.7,129.0 643.8,128.3 644.8,127.5 645.8,126.9 646.8,126.3 647.9,125.9 648.9,125.5 649.9,125.3 651.0,125.2 652.0,125.2" fill="none" stroke="#a2b070" stroke-width="1.3"/>
<circle cx="612.8" cy="115.3" r="22.4" fill="url(#gDrop1)" stroke="#b3c0cc" stroke-width="0.8" fill-opacity="0.82"/>
<path d="M603.45,104.3 C596.8,108.1 597.75,121.39999999999999 604.4,125.19999999999999 C612.0,129.0 623.4,125.19999999999999 625.3,117.6 C627.2,110.0 623.4,102.4 614.85,101.45" fill="none" stroke="#e0be70" stroke-width="0.855"/><ellipse cx="618.0" cy="115.7" rx="4.1" ry="3.8" fill="url(#gBB2)" stroke="#7f9fc0" stroke-width="0.5"/><ellipse cx="614.3" cy="119.6" rx="4.1" ry="3.8" fill="url(#gBB2)" stroke="#7f9fc0" stroke-width="0.5"/><ellipse cx="608.9" cy="119.2" rx="4.1" ry="3.8" fill="url(#gBB2)" stroke="#7f9fc0" stroke-width="0.5"/><ellipse cx="605.8" cy="114.7" rx="4.1" ry="3.8" fill="url(#gBB2)" stroke="#7f9fc0" stroke-width="0.5"/><ellipse cx="607.4" cy="109.5" rx="4.1" ry="3.8" fill="url(#gBB2)" stroke="#7f9fc0" stroke-width="0.5"/><ellipse cx="612.5" cy="107.5" rx="4.1" ry="3.8" fill="url(#gBB2)" stroke="#7f9fc0" stroke-width="0.5"/><ellipse cx="617.2" cy="110.3" rx="4.1" ry="3.8" fill="url(#gBB2)" stroke="#7f9fc0" stroke-width="0.5"/><circle cx="612.0" cy="113.8" r="2.8" fill="url(#gBB2)" stroke="#7f9fc0" stroke-width="0.5"/><ellipse cx="623.0" cy="116.0" rx="3.9" ry="3.2" transform="rotate(101 623.0 116.0)" fill="url(#gOB)" stroke="#cf8640" stroke-width="0.5"/><ellipse cx="618.2" cy="123.1" rx="3.9" ry="3.2" transform="rotate(146 618.2 123.1)" fill="url(#gOB)" stroke="#cf8640" stroke-width="0.5"/><ellipse cx="609.8" cy="124.8" rx="3.9" ry="3.2" transform="rotate(191 609.8 124.8)" fill="url(#gOB)" stroke="#cf8640" stroke-width="0.5"/><ellipse cx="602.7" cy="120.0" rx="3.9" ry="3.2" transform="rotate(236 602.7 120.0)" fill="url(#gOB)" stroke="#cf8640" stroke-width="0.5"/><ellipse cx="601.0" cy="111.6" rx="3.9" ry="3.2" transform="rotate(281 601.0 111.6)" fill="url(#gOB)" stroke="#cf8640" stroke-width="0.5"/><ellipse cx="605.8" cy="104.5" rx="3.9" ry="3.2" transform="rotate(326 605.8 104.5)" fill="url(#gOB)" stroke="#cf8640" stroke-width="0.5"/><ellipse cx="614.2" cy="102.8" rx="3.9" ry="3.2" transform="rotate(371 614.2 102.8)" fill="url(#gOB)" stroke="#cf8640" stroke-width="0.5"/><ellipse cx="621.3" cy="107.6" rx="3.9" ry="3.2" transform="rotate(416 621.3 107.6)" fill="url(#gOB)" stroke="#cf8640" stroke-width="0.5"/>
<line x1="707.1" y1="132.5" x2="708.7" y2="126.7" stroke="#555" stroke-width="0.85"/><line x1="709.5" y1="133.8" x2="711.1" y2="125.4" stroke="#555" stroke-width="0.85"/><line x1="711.9" y1="134.5" x2="713.5" y2="124.7" stroke="#555" stroke-width="0.85"/><line x1="714.3" y1="134.5" x2="715.9" y2="124.7" stroke="#555" stroke-width="0.85"/><line x1="716.7" y1="133.7" x2="718.3" y2="125.5" stroke="#555" stroke-width="0.85"/><line x1="719.1" y1="132.3" x2="720.7" y2="126.9" stroke="#555" stroke-width="0.85"/><line x1="726.3" y1="132.3" x2="727.9" y2="126.9" stroke="#555" stroke-width="0.85"/><line x1="728.7" y1="133.7" x2="730.3" y2="125.5" stroke="#555" stroke-width="0.85"/><line x1="731.1" y1="134.5" x2="732.7" y2="124.7" stroke="#555" stroke-width="0.85"/><line x1="733.5" y1="134.5" x2="735.1" y2="124.7" stroke="#555" stroke-width="0.85"/><line x1="735.9" y1="133.8" x2="737.5" y2="125.4" stroke="#555" stroke-width="0.85"/><line x1="738.3" y1="132.5" x2="739.9" y2="126.7" stroke="#555" stroke-width="0.85"/><line x1="745.5" y1="132.1" x2="747.1" y2="127.1" stroke="#555" stroke-width="0.85"/><line x1="747.9" y1="133.6" x2="749.5" y2="125.6" stroke="#555" stroke-width="0.85"/><line x1="750.3" y1="134.4" x2="751.9" y2="124.8" stroke="#555" stroke-width="0.85"/><line x1="752.7" y1="134.6" x2="754.3" y2="124.6" stroke="#555" stroke-width="0.85"/><line x1="755.1" y1="134.0" x2="756.7" y2="125.2" stroke="#555" stroke-width="0.85"/><line x1="757.5" y1="132.7" x2="759.1" y2="126.5" stroke="#555" stroke-width="0.85"/><line x1="759.9" y1="131.0" x2="761.5" y2="128.2" stroke="#555" stroke-width="0.85"/><line x1="764.7" y1="131.9" x2="766.3" y2="127.3" stroke="#555" stroke-width="0.85"/><line x1="767.1" y1="133.4" x2="768.7" y2="125.8" stroke="#555" stroke-width="0.85"/><line x1="769.5" y1="134.4" x2="771.1" y2="124.8" stroke="#555" stroke-width="0.85"/><line x1="771.9" y1="134.6" x2="773.5" y2="124.6" stroke="#555" stroke-width="0.85"/><line x1="774.3" y1="134.1" x2="775.9" y2="125.1" stroke="#555" stroke-width="0.85"/><line x1="776.7" y1="132.9" x2="778.3" y2="126.3" stroke="#555" stroke-width="0.85"/><line x1="779.1" y1="131.3" x2="780.7" y2="127.9" stroke="#555" stroke-width="0.85"/><line x1="783.9" y1="131.7" x2="785.5" y2="127.5" stroke="#555" stroke-width="0.85"/><line x1="786.3" y1="133.3" x2="787.9" y2="125.9" stroke="#555" stroke-width="0.85"/><line x1="788.7" y1="134.3" x2="790.3" y2="124.9" stroke="#555" stroke-width="0.85"/><line x1="791.1" y1="134.6" x2="792.7" y2="124.6" stroke="#555" stroke-width="0.85"/><line x1="793.5" y1="134.2" x2="795.1" y2="125.0" stroke="#555" stroke-width="0.85"/><polyline points="704.0,129.6 705.2,130.5 706.3,131.4 707.5,132.3 708.6,133.0 709.8,133.6 711.0,134.1 712.1,134.4 713.3,134.6 714.5,134.6 715.6,134.4 716.8,134.0 718.0,133.5 719.1,132.8 720.3,132.1 721.4,131.2 722.6,130.3 723.8,129.4 724.9,128.5 726.1,127.6 727.2,126.8 728.4,126.0 729.6,125.5 730.7,125.0 731.9,124.7 733.1,124.6 734.2,124.7 735.4,124.9 736.5,125.3 737.7,125.8 738.9,126.5 740.0,127.3 741.2,128.2 742.4,129.1 743.5,130.0 744.7,130.9 745.9,131.8 747.0,132.6 748.2,133.3 749.3,133.9 750.5,134.3 751.7,134.5 752.8,134.6 754.0,134.5 755.1,134.2 756.3,133.8 757.5,133.2 758.6,132.5 759.8,131.7 761.0,130.8 762.1,129.9 763.3,129.0 764.5,128.1 765.6,127.2 766.8,126.4 767.9,125.8 769.1,125.2 770.3,124.9 771.4,124.6 772.6,124.6 773.8,124.7 774.9,125.1 776.1,125.5 777.2,126.1 778.4,126.9 779.6,127.7 780.7,128.6 781.9,129.5 783.0,130.4 784.2,131.3 785.4,132.2 786.5,132.9 787.7,133.6 788.9,134.1 790.0,134.4 791.2,134.6 792.4,134.6 793.5,134.4 794.7,134.1 795.8,133.6 797.0,132.9" fill="none" stroke="#a2b070" stroke-width="1.3"/><polyline points="704.0,129.6 705.2,128.7 706.3,127.8 707.5,126.9 708.6,126.2 709.8,125.6 711.0,125.1 712.1,124.8 713.3,124.6 714.5,124.6 715.6,124.8 716.8,125.2 718.0,125.7 719.1,126.4 720.3,127.1 721.4,128.0 722.6,128.9 723.8,129.8 724.9,130.7 726.1,131.6 727.2,132.4 728.4,133.2 729.6,133.7 730.7,134.2 731.9,134.5 733.1,134.6 734.2,134.5 735.4,134.3 736.5,133.9 737.7,133.4 738.9,132.7 740.0,131.9 741.2,131.0 742.4,130.1 743.5,129.2 744.7,128.3 745.9,127.4 747.0,126.6 748.2,125.9 749.3,125.3 750.5,124.9 751.7,124.7 752.8,124.6 754.0,124.7 755.1,125.0 756.3,125.4 757.5,126.0 758.6,126.7 759.8,127.5 761.0,128.4 762.1,129.3 763.3,130.2 764.5,131.1 765.6,132.0 766.8,132.8 767.9,133.4 769.1,134.0 770.3,134.3 771.4,134.6 772.6,134.6 773.8,134.5 774.9,134.1 776.1,133.7 777.2,133.1 778.4,132.3 779.6,131.5 780.7,130.6 781.9,129.7 783.0,128.8 784.2,127.9 785.4,127.0 786.5,126.3 787.7,125.6 788.9,125.1 790.0,124.8 791.2,124.6 792.4,124.6 793.5,124.8 794.7,125.1 795.8,125.6 797.0,126.3" fill="none" stroke="#a2b070" stroke-width="1.3"/>
<circle cx="749.2" cy="115.4" r="32.3" fill="url(#gDrop1)" stroke="#b3c0cc" stroke-width="0.8" fill-opacity="0.8"/>
<path d="M736.08,102.2 C727.12,107.32 728.4,125.24 737.36,130.36 C747.6,135.48 762.96,130.36 765.52,120.12 C768.08,109.88 762.96,99.64 751.44,98.36" fill="none" stroke="#e0be70" stroke-width="1.1520000000000001"/><ellipse cx="755.7" cy="117.5" rx="5.5" ry="5.1" fill="url(#gBB2)" stroke="#7f9fc0" stroke-width="0.5"/><ellipse cx="750.7" cy="122.9" rx="5.5" ry="5.1" fill="url(#gBB2)" stroke="#7f9fc0" stroke-width="0.5"/><ellipse cx="743.4" cy="122.3" rx="5.5" ry="5.1" fill="url(#gBB2)" stroke="#7f9fc0" stroke-width="0.5"/><ellipse cx="739.2" cy="116.3" rx="5.5" ry="5.1" fill="url(#gBB2)" stroke="#7f9fc0" stroke-width="0.5"/><ellipse cx="741.4" cy="109.2" rx="5.5" ry="5.1" fill="url(#gBB2)" stroke="#7f9fc0" stroke-width="0.5"/><ellipse cx="748.2" cy="106.6" rx="5.5" ry="5.1" fill="url(#gBB2)" stroke="#7f9fc0" stroke-width="0.5"/><ellipse cx="754.6" cy="110.2" rx="5.5" ry="5.1" fill="url(#gBB2)" stroke="#7f9fc0" stroke-width="0.5"/><circle cx="747.6" cy="115.0" r="3.8" fill="url(#gBB2)" stroke="#7f9fc0" stroke-width="0.5"/><ellipse cx="762.4" cy="118.0" rx="5.2" ry="4.4" transform="rotate(101 762.4 118.0)" fill="url(#gOB)" stroke="#cf8640" stroke-width="0.5"/><ellipse cx="755.9" cy="127.6" rx="5.2" ry="4.4" transform="rotate(146 755.9 127.6)" fill="url(#gOB)" stroke="#cf8640" stroke-width="0.5"/><ellipse cx="744.6" cy="129.8" rx="5.2" ry="4.4" transform="rotate(191 744.6 129.8)" fill="url(#gOB)" stroke="#cf8640" stroke-width="0.5"/><ellipse cx="735.0" cy="123.3" rx="5.2" ry="4.4" transform="rotate(236 735.0 123.3)" fill="url(#gOB)" stroke="#cf8640" stroke-width="0.5"/><ellipse cx="732.8" cy="112.0" rx="5.2" ry="4.4" transform="rotate(281 732.8 112.0)" fill="url(#gOB)" stroke="#cf8640" stroke-width="0.5"/><ellipse cx="739.3" cy="102.4" rx="5.2" ry="4.4" transform="rotate(326 739.3 102.4)" fill="url(#gOB)" stroke="#cf8640" stroke-width="0.5"/><ellipse cx="750.6" cy="100.2" rx="5.2" ry="4.4" transform="rotate(371 750.6 100.2)" fill="url(#gOB)" stroke="#cf8640" stroke-width="0.5"/><ellipse cx="760.2" cy="106.7" rx="5.2" ry="4.4" transform="rotate(416 760.2 106.7)" fill="url(#gOB)" stroke="#cf8640" stroke-width="0.5"/><circle cx="761.4" cy="124.3" r="1.9" fill="#ddd" stroke="#4a4a4a" stroke-width="1.4"/><circle cx="750.8" cy="131.3" r="1.9" fill="#ddd" stroke="#4a4a4a" stroke-width="1.4"/><circle cx="738.3" cy="128.8" r="1.9" fill="#ddd" stroke="#4a4a4a" stroke-width="1.4"/><circle cx="731.3" cy="118.2" r="1.9" fill="#ddd" stroke="#4a4a4a" stroke-width="1.4"/><circle cx="733.8" cy="105.7" r="1.9" fill="#ddd" stroke="#4a4a4a" stroke-width="1.4"/><circle cx="744.4" cy="98.7" r="1.9" fill="#ddd" stroke="#4a4a4a" stroke-width="1.4"/><circle cx="756.9" cy="101.2" r="1.9" fill="#ddd" stroke="#4a4a4a" stroke-width="1.4"/><circle cx="763.9" cy="111.8" r="1.9" fill="#ddd" stroke="#4a4a4a" stroke-width="1.4"/><ellipse cx="744.9" cy="89.5" rx="4.0" ry="4.8" fill="url(#gPB)" stroke="#d07078" stroke-width="0.4"/><ellipse cx="766.5" cy="96.7" rx="4.0" ry="4.8" fill="url(#gPB)" stroke="#d07078" stroke-width="0.4"/><ellipse cx="727.1" cy="122.9" rx="4.0" ry="4.8" fill="url(#gPB)" stroke="#d07078" stroke-width="0.4"/><ellipse cx="763.0" cy="134.0" rx="4.0" ry="4.8" fill="url(#gPB)" stroke="#d07078" stroke-width="0.4"/>
<circle cx="900" cy="112.4" r="44" fill="url(#gDrop3)"/>
<circle cx="935.0" cy="112.4" r="4.6" fill="#f0c8cc" opacity="0.45"/>
<circle cx="932.9" cy="124.4" r="4.6" fill="#c8e4dc" opacity="0.45"/>
<circle cx="926.8" cy="134.9" r="4.6" fill="#c8dcec" opacity="0.45"/>
<circle cx="917.5" cy="142.7" r="4.6" fill="#f2d8c4" opacity="0.45"/>
<circle cx="906.1" cy="146.9" r="4.6" fill="#f0c8cc" opacity="0.45"/>
<circle cx="893.9" cy="146.9" r="4.6" fill="#c8e4dc" opacity="0.45"/>
<circle cx="882.5" cy="142.7" r="4.6" fill="#c8dcec" opacity="0.45"/>
<circle cx="873.2" cy="134.9" r="4.6" fill="#f2d8c4" opacity="0.45"/>
<circle cx="867.1" cy="124.4" r="4.6" fill="#f0c8cc" opacity="0.45"/>
<circle cx="865.0" cy="112.4" r="4.6" fill="#c8e4dc" opacity="0.45"/>
<circle cx="867.1" cy="100.4" r="4.6" fill="#c8dcec" opacity="0.45"/>
<circle cx="873.2" cy="89.9" r="4.6" fill="#f2d8c4" opacity="0.45"/>
<circle cx="882.5" cy="82.1" r="4.6" fill="#f0c8cc" opacity="0.45"/>
<circle cx="893.9" cy="77.9" r="4.6" fill="#c8e4dc" opacity="0.45"/>
<circle cx="906.1" cy="77.9" r="4.6" fill="#c8dcec" opacity="0.45"/>
<circle cx="917.5" cy="82.1" r="4.6" fill="#f2d8c4" opacity="0.45"/>
<circle cx="926.8" cy="89.9" r="4.6" fill="#f0c8cc" opacity="0.45"/>
<circle cx="932.9" cy="100.4" r="4.6" fill="#c8e4dc" opacity="0.45"/>
<circle cx="926.5" cy="117.8" r="4.6" fill="#f0c8cc" opacity="0.45"/>
<circle cx="921.5" cy="128.7" r="4.6" fill="#c8e4dc" opacity="0.45"/>
<circle cx="912.3" cy="136.4" r="4.6" fill="#c8dcec" opacity="0.45"/>
<circle cx="900.7" cy="139.4" r="4.6" fill="#f2d8c4" opacity="0.45"/>
<circle cx="888.9" cy="137.0" r="4.6" fill="#f0c8cc" opacity="0.45"/>
<circle cx="879.3" cy="129.7" r="4.6" fill="#c8e4dc" opacity="0.45"/>
<circle cx="873.8" cy="119.0" r="4.6" fill="#c8dcec" opacity="0.45"/>
<circle cx="873.5" cy="107.0" r="4.6" fill="#f2d8c4" opacity="0.45"/>
<circle cx="878.5" cy="96.1" r="4.6" fill="#f0c8cc" opacity="0.45"/>
<circle cx="887.7" cy="88.4" r="4.6" fill="#c8e4dc" opacity="0.45"/>
<circle cx="899.3" cy="85.4" r="4.6" fill="#c8dcec" opacity="0.45"/>
<circle cx="911.1" cy="87.8" r="4.6" fill="#f2d8c4" opacity="0.45"/>
<circle cx="920.7" cy="95.1" r="4.6" fill="#f0c8cc" opacity="0.45"/>
<circle cx="926.2" cy="105.8" r="4.6" fill="#c8e4dc" opacity="0.45"/>
<line x1="852.7" y1="130.5" x2="854.3" y2="120.5" stroke="#555" stroke-width="0.85"/><line x1="855.1" y1="130.4" x2="856.7" y2="120.6" stroke="#555" stroke-width="0.85"/><line x1="857.5" y1="129.6" x2="859.1" y2="121.4" stroke="#555" stroke-width="0.85"/><line x1="859.9" y1="128.2" x2="861.5" y2="122.8" stroke="#555" stroke-width="0.85"/><line x1="867.1" y1="128.1" x2="868.7" y2="122.9" stroke="#555" stroke-width="0.85"/><line x1="869.5" y1="129.5" x2="871.1" y2="121.5" stroke="#555" stroke-width="0.85"/><line x1="871.9" y1="130.3" x2="873.5" y2="120.7" stroke="#555" stroke-width="0.85"/><line x1="874.3" y1="130.5" x2="875.9" y2="120.5" stroke="#555" stroke-width="0.85"/><line x1="876.7" y1="129.9" x2="878.3" y2="121.1" stroke="#555" stroke-width="0.85"/><line x1="879.1" y1="128.7" x2="880.7" y2="122.3" stroke="#555" stroke-width="0.85"/><line x1="881.5" y1="127.1" x2="883.1" y2="123.9" stroke="#555" stroke-width="0.85"/><line x1="886.3" y1="127.6" x2="887.9" y2="123.4" stroke="#555" stroke-width="0.85"/><line x1="888.7" y1="129.1" x2="890.3" y2="121.9" stroke="#555" stroke-width="0.85"/><line x1="891.1" y1="130.1" x2="892.7" y2="120.9" stroke="#555" stroke-width="0.85"/><line x1="893.5" y1="130.5" x2="895.1" y2="120.5" stroke="#555" stroke-width="0.85"/><line x1="895.9" y1="130.2" x2="897.5" y2="120.8" stroke="#555" stroke-width="0.85"/><line x1="898.3" y1="129.2" x2="899.9" y2="121.8" stroke="#555" stroke-width="0.85"/><line x1="900.7" y1="127.7" x2="902.3" y2="123.3" stroke="#555" stroke-width="0.85"/><line x1="905.5" y1="127.0" x2="907.1" y2="124.0" stroke="#555" stroke-width="0.85"/><line x1="907.9" y1="128.7" x2="909.5" y2="122.3" stroke="#555" stroke-width="0.85"/><line x1="910.3" y1="129.9" x2="911.9" y2="121.1" stroke="#555" stroke-width="0.85"/><line x1="912.7" y1="130.5" x2="914.3" y2="120.5" stroke="#555" stroke-width="0.85"/><line x1="915.1" y1="130.4" x2="916.7" y2="120.6" stroke="#555" stroke-width="0.85"/><line x1="917.5" y1="129.6" x2="919.1" y2="121.4" stroke="#e07a7a" stroke-width="0.85"/><line x1="919.9" y1="128.2" x2="921.5" y2="122.8" stroke="#e07a7a" stroke-width="0.85"/><line x1="927.1" y1="128.1" x2="928.7" y2="122.9" stroke="#e07a7a" stroke-width="0.85"/><line x1="929.5" y1="129.5" x2="931.1" y2="121.5" stroke="#e07a7a" stroke-width="0.85"/><line x1="931.9" y1="130.3" x2="933.5" y2="120.7" stroke="#e07a7a" stroke-width="0.85"/><line x1="934.3" y1="130.5" x2="935.9" y2="120.5" stroke="#e07a7a" stroke-width="0.85"/><line x1="936.7" y1="129.9" x2="938.3" y2="121.1" stroke="#e07a7a" stroke-width="0.85"/><line x1="939.1" y1="128.7" x2="940.7" y2="122.3" stroke="#e07a7a" stroke-width="0.85"/><line x1="941.5" y1="127.1" x2="943.1" y2="123.9" stroke="#e07a7a" stroke-width="0.85"/><line x1="946.3" y1="127.6" x2="947.9" y2="123.4" stroke="#e07a7a" stroke-width="0.85"/><line x1="948.7" y1="129.1" x2="950.3" y2="121.9" stroke="#e07a7a" stroke-width="0.85"/><line x1="951.1" y1="130.1" x2="952.7" y2="120.9" stroke="#e07a7a" stroke-width="0.85"/><line x1="953.5" y1="130.5" x2="955.1" y2="120.5" stroke="#e07a7a" stroke-width="0.85"/><line x1="955.9" y1="130.2" x2="957.5" y2="120.8" stroke="#e07a7a" stroke-width="0.85"/><polyline points="852.0,130.2 853.3,130.4 854.6,130.5 856.0,130.3 857.3,130.0 858.6,129.4 860.0,128.7 861.3,127.8 862.6,126.9 863.9,125.8 865.2,124.8 866.6,123.8 867.9,122.9 869.2,122.0 870.5,121.4 871.9,120.9 873.2,120.6 874.5,120.5 875.9,120.6 877.2,121.0 878.5,121.5 879.8,122.2 881.1,123.1 882.5,124.0 883.8,125.1 885.1,126.1 886.5,127.1 887.8,128.1 889.1,128.9 890.4,129.6 891.8,130.1 893.1,130.4 894.4,130.5 895.7,130.4 897.0,130.1 898.4,129.5 899.7,128.8 901.0,128.0 902.4,127.1 903.7,126.0 905.0,125.0 906.3,124.0 907.6,123.0 909.0,122.2 910.3,121.5 911.6,121.0 913.0,120.6 914.3,120.5 915.6,120.6 916.9,120.9 918.2,121.4 919.6,122.1 920.9,122.9 922.2,123.9 923.5,124.9 924.9,125.9 926.2,126.9 927.5,127.9 928.9,128.7 930.2,129.5 931.5,130.0 932.8,130.4 934.1,130.5 935.5,130.4 936.8,130.1 938.1,129.7 939.5,129.0 940.8,128.2 942.1,127.2 943.4,126.2 944.8,125.2 946.1,124.2 947.4,123.2 948.7,122.3 950.0,121.6 951.4,121.0 952.7,120.7 954.0,120.5 955.4,120.6 956.7,120.8 958.0,121.3" fill="none" stroke="#a2b070" stroke-width="1.3"/><polyline points="852.0,120.8 853.3,120.6 854.6,120.5 856.0,120.7 857.3,121.0 858.6,121.6 860.0,122.3 861.3,123.2 862.6,124.1 863.9,125.2 865.2,126.2 866.6,127.2 867.9,128.1 869.2,129.0 870.5,129.6 871.9,130.1 873.2,130.4 874.5,130.5 875.9,130.4 877.2,130.0 878.5,129.5 879.8,128.8 881.1,127.9 882.5,127.0 883.8,125.9 885.1,124.9 886.5,123.9 887.8,122.9 889.1,122.1 890.4,121.4 891.8,120.9 893.1,120.6 894.4,120.5 895.7,120.6 897.0,120.9 898.4,121.5 899.7,122.2 901.0,123.0 902.4,123.9 903.7,125.0 905.0,126.0 906.3,127.0 907.6,128.0 909.0,128.8 910.3,129.5 911.6,130.0 913.0,130.4 914.3,130.5 915.6,130.4 916.9,130.1 918.2,129.6 919.6,128.9 920.9,128.1 922.2,127.1 923.5,126.1 924.9,125.1 926.2,124.1 927.5,123.1 928.9,122.3 930.2,121.5 931.5,121.0 932.8,120.6 934.1,120.5 935.5,120.6 936.8,120.9 938.1,121.3 939.5,122.0 940.8,122.8 942.1,123.8 943.4,124.8 944.8,125.8 946.1,126.8 947.4,127.8 948.7,128.7 950.0,129.4 951.4,130.0 952.7,130.3 954.0,130.5 955.4,130.4 956.7,130.2 958.0,129.7" fill="none" stroke="#a2b070" stroke-width="1.3"/>
<path d="M888.42,99.2 C879.88,104.08000000000001 881.1,121.16000000000001 889.64,126.04 C899.4,130.92000000000002 914.04,126.04 916.48,116.28 C918.92,106.52000000000001 914.04,96.76 903.06,95.54" fill="none" stroke="#e0be70" stroke-width="1.098"/><ellipse cx="907.1" cy="113.8" rx="5.2" ry="4.9" fill="url(#gBB2)" stroke="#7f9fc0" stroke-width="0.5"/><ellipse cx="902.3" cy="118.9" rx="5.2" ry="4.9" fill="url(#gBB2)" stroke="#7f9fc0" stroke-width="0.5"/><ellipse cx="895.4" cy="118.4" rx="5.2" ry="4.9" fill="url(#gBB2)" stroke="#7f9fc0" stroke-width="0.5"/><ellipse cx="891.4" cy="112.6" rx="5.2" ry="4.9" fill="url(#gBB2)" stroke="#7f9fc0" stroke-width="0.5"/><ellipse cx="893.5" cy="105.9" rx="5.2" ry="4.9" fill="url(#gBB2)" stroke="#7f9fc0" stroke-width="0.5"/><ellipse cx="900.0" cy="103.4" rx="5.2" ry="4.9" fill="url(#gBB2)" stroke="#7f9fc0" stroke-width="0.5"/><ellipse cx="906.1" cy="106.9" rx="5.2" ry="4.9" fill="url(#gBB2)" stroke="#7f9fc0" stroke-width="0.5"/><circle cx="899.4" cy="111.4" r="3.7" fill="url(#gBB2)" stroke="#7f9fc0" stroke-width="0.5"/><ellipse cx="913.5" cy="114.3" rx="5.0" ry="4.1" transform="rotate(101 913.5 114.3)" fill="url(#gOB)" stroke="#cf8640" stroke-width="0.5"/><ellipse cx="907.4" cy="123.4" rx="5.0" ry="4.1" transform="rotate(146 907.4 123.4)" fill="url(#gOB)" stroke="#cf8640" stroke-width="0.5"/><ellipse cx="896.5" cy="125.5" rx="5.0" ry="4.1" transform="rotate(191 896.5 125.5)" fill="url(#gOB)" stroke="#cf8640" stroke-width="0.5"/><ellipse cx="887.4" cy="119.4" rx="5.0" ry="4.1" transform="rotate(236 887.4 119.4)" fill="url(#gOB)" stroke="#cf8640" stroke-width="0.5"/><ellipse cx="885.3" cy="108.5" rx="5.0" ry="4.1" transform="rotate(281 885.3 108.5)" fill="url(#gOB)" stroke="#cf8640" stroke-width="0.5"/><ellipse cx="891.4" cy="99.4" rx="5.0" ry="4.1" transform="rotate(326 891.4 99.4)" fill="url(#gOB)" stroke="#cf8640" stroke-width="0.5"/><ellipse cx="902.3" cy="97.3" rx="5.0" ry="4.1" transform="rotate(371 902.3 97.3)" fill="url(#gOB)" stroke="#cf8640" stroke-width="0.5"/><ellipse cx="911.4" cy="103.4" rx="5.0" ry="4.1" transform="rotate(416 911.4 103.4)" fill="url(#gOB)" stroke="#cf8640" stroke-width="0.5"/><circle cx="912.6" cy="120.3" r="1.8" fill="#ddd" stroke="#4a4a4a" stroke-width="1.3"/><circle cx="902.4" cy="127.0" r="1.8" fill="#ddd" stroke="#4a4a4a" stroke-width="1.3"/><circle cx="890.5" cy="124.6" r="1.8" fill="#ddd" stroke="#4a4a4a" stroke-width="1.3"/><circle cx="883.8" cy="114.4" r="1.8" fill="#ddd" stroke="#4a4a4a" stroke-width="1.3"/><circle cx="886.2" cy="102.5" r="1.8" fill="#ddd" stroke="#4a4a4a" stroke-width="1.3"/><circle cx="896.4" cy="95.8" r="1.8" fill="#ddd" stroke="#4a4a4a" stroke-width="1.3"/><circle cx="908.3" cy="98.2" r="1.8" fill="#ddd" stroke="#4a4a4a" stroke-width="1.3"/><circle cx="915.0" cy="108.4" r="1.8" fill="#ddd" stroke="#4a4a4a" stroke-width="1.3"/><ellipse cx="888.7" cy="94.0" rx="4.0" ry="4.4" fill="url(#gGB)" stroke="#4e9e7e" stroke-width="0.4"/><ellipse cx="911.1" cy="91.9" rx="4.0" ry="4.4" fill="url(#gGB)" stroke="#4e9e7e" stroke-width="0.4"/><ellipse cx="879.0" cy="107.4" rx="4.0" ry="4.4" fill="url(#gGB)" stroke="#4e9e7e" stroke-width="0.4"/><ellipse cx="921.7" cy="106.7" rx="4.0" ry="4.4" fill="url(#gGB)" stroke="#4e9e7e" stroke-width="0.4"/><ellipse cx="921.7" cy="118.2" rx="4.0" ry="4.4" fill="url(#gGB)" stroke="#4e9e7e" stroke-width="0.4"/><ellipse cx="885.9" cy="126.9" rx="4.0" ry="4.4" fill="url(#gGB)" stroke="#4e9e7e" stroke-width="0.4"/><ellipse cx="902.3" cy="134.7" rx="4.0" ry="4.4" fill="url(#gGB)" stroke="#4e9e7e" stroke-width="0.4"/><ellipse cx="896.7" cy="89.1" rx="4.0" ry="4.8" fill="url(#gPB)" stroke="#d07078" stroke-width="0.4"/><ellipse cx="918.9" cy="95.0" rx="4.0" ry="4.8" fill="url(#gPB)" stroke="#d07078" stroke-width="0.4"/><ellipse cx="880.1" cy="121.3" rx="4.0" ry="4.8" fill="url(#gPB)" stroke="#d07078" stroke-width="0.4"/><ellipse cx="914.8" cy="131.8" rx="4.0" ry="4.8" fill="url(#gPB)" stroke="#d07078" stroke-width="0.4"/>
<text x="912.6" y="78.6" font-size="8.6" fill="#444" stroke="#444" stroke-width="0.15"><tspan font-style="italic">CCA1</tspan> mRNA</text>
<polyline points="933.90,83.30 934.14,83.57 934.39,83.82 934.63,84.02 934.88,84.15 935.12,84.20 935.36,84.17 935.61,84.06 935.85,83.87 936.09,83.64 936.34,83.37 936.58,83.10 936.82,82.84 937.07,82.63 937.31,82.48 937.56,82.41 937.80,82.42 938.04,82.51 938.29,82.67 938.53,82.90 938.77,83.16 939.02,83.43 939.26,83.70 939.51,83.92 939.75,84.09 939.99,84.18 940.24,84.19 940.48,84.12 940.73,83.98 940.97,83.76 941.21,83.51 941.46,83.24 941.70,82.97 941.94,82.73 942.19,82.55 942.43,82.43 942.67,82.40 942.92,82.45 943.16,82.58 943.41,82.78 943.65,83.02 943.89,83.29 944.14,83.56 944.38,83.81 944.62,84.01 944.87,84.14 945.11,84.20 945.36,84.17 945.60,84.06 945.84,83.88 946.09,83.64 946.33,83.38 946.57,83.10 946.82,82.85 947.06,82.63 947.31,82.48 947.55,82.41 947.79,82.41 948.04,82.50 948.28,82.67 948.52,82.89 948.77,83.15 949.01,83.43 949.26,83.69 949.50,83.92 949.74,84.09 949.99,84.18 950.23,84.20 950.48,84.13 950.72,83.98 950.96,83.77 951.21,83.52 951.45,83.24 951.69,82.98 951.94,82.74 952.18,82.55 952.42,82.44 952.67,82.40 952.91,82.45 953.16,82.58 953.40,82.77" fill="none" stroke="#555" stroke-width="1.1" stroke-linejoin="round"/>
<text x="924.4" y="84.6" font-size="3.3" fill="#666">m⁷G</text>
<text x="953.6999999999999" y="84.7" font-size="3.6" fill="#777">AAAAₙ</text>
<polyline points="928.40,88.40 928.64,88.67 928.89,88.92 929.13,89.12 929.38,89.25 929.62,89.30 929.87,89.27 930.12,89.15 930.36,88.96 930.61,88.73 930.85,88.46 931.10,88.18 931.34,87.93 931.59,87.72 931.83,87.57 932.07,87.50 932.32,87.52 932.56,87.62 932.81,87.79 933.05,88.02 933.30,88.29 933.54,88.56 933.79,88.82 934.03,89.04 934.28,89.20 934.52,89.29 934.77,89.29 935.01,89.21 935.26,89.05 935.50,88.83 935.75,88.57 936.00,88.29 936.24,88.03 936.49,87.80 936.73,87.62 936.98,87.52 937.22,87.50 937.47,87.57 937.71,87.71 937.96,87.92 938.20,88.18 938.44,88.45 938.69,88.72 938.93,88.96 939.18,89.15 939.42,89.26 939.67,89.30 939.91,89.25 940.16,89.12 940.40,88.92 940.65,88.68 940.89,88.41 941.14,88.13 941.38,87.88 941.63,87.69 941.88,87.55 942.12,87.50 942.37,87.53 942.61,87.65 942.86,87.83 943.10,88.07 943.35,88.34 943.59,88.61 943.84,88.87 944.08,89.08 944.33,89.23 944.57,89.30 944.82,89.28 945.06,89.18 945.30,89.01 945.55,88.78 945.79,88.52 946.04,88.24 946.28,87.98 946.53,87.76 946.77,87.60 947.02,87.51 947.26,87.51 947.51,87.59 947.75,87.75 948.00,87.97" fill="none" stroke="#555" stroke-width="1.1" stroke-linejoin="round"/>
<text x="918.9" y="89.7" font-size="3.3" fill="#666">m⁷G</text>
<text x="948.3" y="89.80000000000001" font-size="3.6" fill="#777">AAAAₙ</text>
<polyline points="936.20,93.90 936.44,94.16 936.67,94.40 936.91,94.60 937.14,94.73 937.38,94.80 937.61,94.78 937.85,94.69 938.08,94.53 938.32,94.32 938.55,94.07 938.79,93.80 939.02,93.55 939.25,93.32 939.49,93.15 939.73,93.04 939.96,93.00 940.20,93.04 940.43,93.16 940.67,93.34 940.90,93.57 941.13,93.83 941.37,94.09 941.61,94.34 941.84,94.55 942.08,94.70 942.31,94.79 942.55,94.79 942.78,94.72 943.01,94.58 943.25,94.38 943.49,94.14 943.72,93.88 943.96,93.62 944.19,93.38 944.43,93.19 944.66,93.06 944.89,93.00 945.13,93.02 945.37,93.12 945.60,93.28 945.84,93.50 946.07,93.75 946.31,94.02 946.54,94.27 946.77,94.50 947.01,94.67 947.25,94.77 947.48,94.80 947.72,94.75 947.95,94.63 948.19,94.44 948.42,94.21 948.65,93.95 948.89,93.69 949.12,93.44 949.36,93.24 949.60,93.09 949.83,93.01 950.07,93.01 950.30,93.09 950.53,93.23 950.77,93.44 951.00,93.68 951.24,93.95 951.48,94.20 951.71,94.44 951.95,94.62 952.18,94.75 952.41,94.80 952.65,94.77 952.88,94.67 953.12,94.50 953.36,94.28 953.59,94.02 953.83,93.76 954.06,93.51 954.29,93.29 954.53,93.12 954.76,93.02 955.00,93.00" fill="none" stroke="#555" stroke-width="1.1" stroke-linejoin="round"/>
<text x="926.7" y="95.2" font-size="3.3" fill="#666">m⁷G</text>
<text x="955.3" y="95.30000000000001" font-size="3.6" fill="#777">AAAAₙ</text>
<path d="M930.5,120 L930.5,116.6 L950,118.8" fill="none" stroke="#111" stroke-width="1.3"/>
<path d="M948.6,115.5 L955.4,119.4 L948.0,121.8 Z" fill="#111"/>
<text x="921" y="136.5" font-size="7.4" font-style="italic" fill="#444" transform="rotate(10 921 136.5)">CCA1 ORF</text></svg>
</body></html>
